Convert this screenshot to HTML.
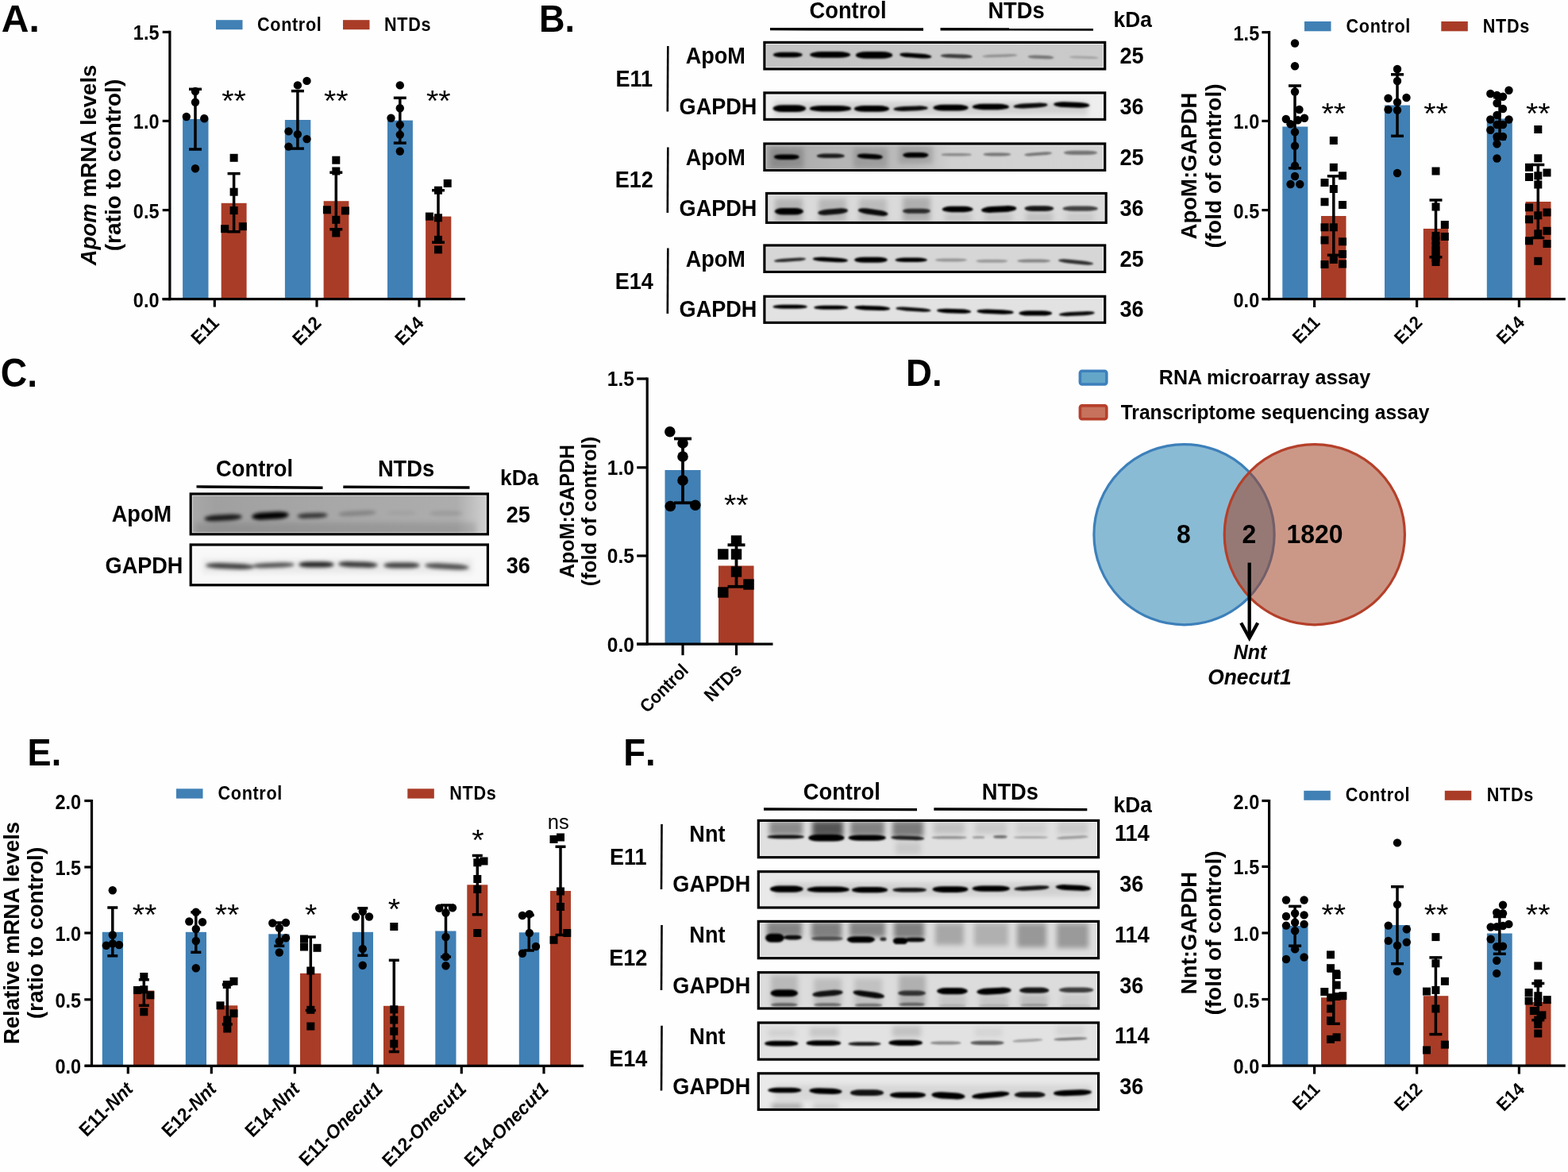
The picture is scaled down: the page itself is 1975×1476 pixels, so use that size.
<!DOCTYPE html>
<html lang="en"><head><meta charset="utf-8"><title>Figure</title>
<style>
html,body{margin:0;padding:0;background:#fff;}
body{width:1975px;height:1476px;overflow:hidden;}
svg{display:block;font-family:"Liberation Sans", sans-serif;font-weight:bold;}
</style></head>
<body>
<svg width="1975" height="1476" viewBox="0 0 1975 1476">
<rect width="1975" height="1476" fill="#fefefe"/>
<g id="panelA">
<text font-size="49" transform="translate(1.80 39.80) scale(0.98 1)">A.</text>
<rect x="230.10" y="150.00" width="32.40" height="226.60" fill="#4080b5" />
<rect x="278.70" y="255.80" width="31.90" height="120.80" fill="#a93c27" />
<rect x="358.90" y="151.00" width="32.40" height="225.60" fill="#4080b5" />
<rect x="407.60" y="253.20" width="31.80" height="123.40" fill="#a93c27" />
<rect x="488.00" y="151.60" width="31.90" height="225.00" fill="#4080b5" />
<rect x="536.10" y="272.60" width="32.20" height="104.00" fill="#a93c27" />
<line x1="213.90" y1="38.80" x2="213.90" y2="378.20" stroke="#000" stroke-width="3.2" stroke-linecap="butt"/>
<line x1="204.50" y1="376.60" x2="586.00" y2="376.60" stroke="#000" stroke-width="3.2" stroke-linecap="butt"/>
<line x1="204.70" y1="40.40" x2="213.90" y2="40.40" stroke="#000" stroke-width="3.2" stroke-linecap="butt"/>
<text font-size="25" transform="translate(200.50 50.45) scale(0.94 1)" text-anchor="end">1.5</text>
<line x1="204.70" y1="152.40" x2="213.90" y2="152.40" stroke="#000" stroke-width="3.2" stroke-linecap="butt"/>
<text font-size="25" transform="translate(200.50 162.45) scale(0.94 1)" text-anchor="end">1.0</text>
<line x1="204.70" y1="264.60" x2="213.90" y2="264.60" stroke="#000" stroke-width="3.2" stroke-linecap="butt"/>
<text font-size="25" transform="translate(200.50 274.65) scale(0.94 1)" text-anchor="end">0.5</text>
<line x1="204.70" y1="376.60" x2="213.90" y2="376.60" stroke="#000" stroke-width="3.2" stroke-linecap="butt"/>
<text font-size="25" transform="translate(200.50 386.65) scale(0.94 1)" text-anchor="end">0.0</text>
<line x1="270.30" y1="376.60" x2="270.30" y2="386.60" stroke="#000" stroke-width="3.2" stroke-linecap="butt"/>
<line x1="399.00" y1="376.60" x2="399.00" y2="386.60" stroke="#000" stroke-width="3.2" stroke-linecap="butt"/>
<line x1="528.00" y1="376.60" x2="528.00" y2="386.60" stroke="#000" stroke-width="3.2" stroke-linecap="butt"/>
<line x1="246.00" y1="112.30" x2="246.00" y2="188.00" stroke="#000" stroke-width="3.5" stroke-linecap="butt"/>
<line x1="238.00" y1="112.30" x2="254.00" y2="112.30" stroke="#000" stroke-width="3.5" stroke-linecap="butt"/>
<line x1="238.00" y1="188.00" x2="254.00" y2="188.00" stroke="#000" stroke-width="3.5" stroke-linecap="butt"/>
<line x1="294.60" y1="218.60" x2="294.60" y2="291.80" stroke="#000" stroke-width="3.5" stroke-linecap="butt"/>
<line x1="286.60" y1="218.60" x2="302.60" y2="218.60" stroke="#000" stroke-width="3.5" stroke-linecap="butt"/>
<line x1="286.60" y1="291.80" x2="302.60" y2="291.80" stroke="#000" stroke-width="3.5" stroke-linecap="butt"/>
<line x1="374.90" y1="114.60" x2="374.90" y2="187.10" stroke="#000" stroke-width="3.5" stroke-linecap="butt"/>
<line x1="366.90" y1="114.60" x2="382.90" y2="114.60" stroke="#000" stroke-width="3.5" stroke-linecap="butt"/>
<line x1="366.90" y1="187.10" x2="382.90" y2="187.10" stroke="#000" stroke-width="3.5" stroke-linecap="butt"/>
<line x1="423.30" y1="217.20" x2="423.30" y2="288.80" stroke="#000" stroke-width="3.5" stroke-linecap="butt"/>
<line x1="415.30" y1="217.20" x2="431.30" y2="217.20" stroke="#000" stroke-width="3.5" stroke-linecap="butt"/>
<line x1="415.30" y1="288.80" x2="431.30" y2="288.80" stroke="#000" stroke-width="3.5" stroke-linecap="butt"/>
<line x1="503.80" y1="123.30" x2="503.80" y2="180.10" stroke="#000" stroke-width="3.5" stroke-linecap="butt"/>
<line x1="495.80" y1="123.30" x2="511.80" y2="123.30" stroke="#000" stroke-width="3.5" stroke-linecap="butt"/>
<line x1="495.80" y1="180.10" x2="511.80" y2="180.10" stroke="#000" stroke-width="3.5" stroke-linecap="butt"/>
<line x1="552.00" y1="239.70" x2="552.00" y2="305.20" stroke="#000" stroke-width="3.5" stroke-linecap="butt"/>
<line x1="544.00" y1="239.70" x2="560.00" y2="239.70" stroke="#000" stroke-width="3.5" stroke-linecap="butt"/>
<line x1="544.00" y1="305.20" x2="560.00" y2="305.20" stroke="#000" stroke-width="3.5" stroke-linecap="butt"/>
<circle cx="246.00" cy="115.00" r="5.2"/>
<circle cx="246.00" cy="128.70" r="5.2"/>
<circle cx="234.80" cy="147.00" r="5.2"/>
<circle cx="257.30" cy="149.20" r="5.2"/>
<circle cx="246.00" cy="212.20" r="5.2"/>
<circle cx="386.50" cy="101.90" r="5.2"/>
<circle cx="374.90" cy="107.40" r="5.2"/>
<circle cx="363.50" cy="165.40" r="5.2"/>
<circle cx="374.90" cy="169.10" r="5.2"/>
<circle cx="386.50" cy="175.10" r="5.2"/>
<circle cx="363.50" cy="184.60" r="5.2"/>
<circle cx="503.80" cy="107.40" r="5.2"/>
<circle cx="503.80" cy="136.20" r="5.2"/>
<circle cx="492.50" cy="148.70" r="5.2"/>
<circle cx="503.80" cy="157.10" r="5.2"/>
<circle cx="503.80" cy="169.60" r="5.2"/>
<circle cx="503.80" cy="190.50" r="5.2"/>
<rect x="289.60" y="193.80" width="10.0" height="10.0"/>
<rect x="289.60" y="236.70" width="10.0" height="10.0"/>
<rect x="289.60" y="260.10" width="10.0" height="10.0"/>
<rect x="278.20" y="283.20" width="10.0" height="10.0"/>
<rect x="300.80" y="280.20" width="10.0" height="10.0"/>
<rect x="418.30" y="196.70" width="10.0" height="10.0"/>
<rect x="418.30" y="210.50" width="10.0" height="10.0"/>
<rect x="406.90" y="259.30" width="10.0" height="10.0"/>
<rect x="430.00" y="260.40" width="10.0" height="10.0"/>
<rect x="418.30" y="271.80" width="10.0" height="10.0"/>
<rect x="418.30" y="288.50" width="10.0" height="10.0"/>
<rect x="558.70" y="225.90" width="10.0" height="10.0"/>
<rect x="547.00" y="234.70" width="10.0" height="10.0"/>
<rect x="535.90" y="267.60" width="10.0" height="10.0"/>
<rect x="547.00" y="269.30" width="10.0" height="10.0"/>
<rect x="547.00" y="296.90" width="10.0" height="10.0"/>
<rect x="547.00" y="309.40" width="10.0" height="10.0"/>
<text font-size="36.5" transform="translate(294.50 139.60) scale(1.08 1)" font-weight="normal" text-anchor="middle">**</text>
<text font-size="36.5" transform="translate(423.30 139.60) scale(1.08 1)" font-weight="normal" text-anchor="middle">**</text>
<text font-size="36.5" transform="translate(552.30 139.60) scale(1.08 1)" font-weight="normal" text-anchor="middle">**</text>
<text font-size="23.4" transform="translate(277.30 408.20) rotate(-45) scale(0.95 1)" text-anchor="end">E11</text>
<text font-size="23.4" transform="translate(406.00 408.20) rotate(-45) scale(0.95 1)" text-anchor="end">E12</text>
<text font-size="23.4" transform="translate(535.00 408.20) rotate(-45) scale(0.95 1)" text-anchor="end">E14</text>
<text font-size="27.5" transform="translate(121.00 208.00) rotate(-90)" text-anchor="middle"><tspan font-style="italic">Apom</tspan> mRNA levels</text>
<text font-size="27.5" transform="translate(152.00 208.00) rotate(-90) scale(1.02 1)" text-anchor="middle">(ratio to control)</text>
<rect x="272.00" y="25.20" width="33.50" height="12.00" fill="#4080b5" />
<text font-size="24" transform="translate(324.00 39.00) scale(0.9 1)" letter-spacing="0.75">Control</text>
<rect x="432.00" y="25.20" width="33.50" height="12.00" fill="#a93c27" />
<text font-size="24" transform="translate(484.00 39.00) scale(0.9 1)" letter-spacing="0.75">NTDs</text>
</g>
<defs>
<filter id="blur1_5" x="-20%" y="-150%" width="140%" height="400%"><feGaussianBlur stdDeviation="1.3"/></filter>
<filter id="blur2" x="-20%" y="-150%" width="140%" height="400%"><feGaussianBlur stdDeviation="2"/></filter>
<filter id="blur3" x="-30%" y="-100%" width="160%" height="300%"><feGaussianBlur stdDeviation="3"/></filter>
</defs>
<g id="panelB">
<text font-size="49" transform="translate(679.00 39.70) scale(0.92 1)">B.</text>
<text font-size="29.5" transform="translate(1068.00 23.00) scale(0.925 1)" text-anchor="middle">Control</text>
<text font-size="29.5" transform="translate(1280.00 23.00) scale(0.925 1)" text-anchor="middle">NTDs</text>
<text font-size="28.5" transform="translate(1402.50 34.20) scale(0.925 1)">kDa</text>
<line x1="970.00" y1="36.60" x2="1163.00" y2="37.00" stroke="#000" stroke-width="3.4" stroke-linecap="butt"/>
<line x1="1184.50" y1="36.80" x2="1377.00" y2="37.00" stroke="#000" stroke-width="3.4" stroke-linecap="butt"/>
<clipPath id="bc1"><rect x="964.50" y="55.00" width="425.60" height="30.30"/></clipPath>
<linearGradient id="bg1" x1="0" y1="0" x2="1" y2="0"><stop offset="0" stop-color="#c2c2c2"/><stop offset="0.5" stop-color="#c8c8c8"/><stop offset="1" stop-color="#cacaca"/></linearGradient>
<rect x="961.30" y="51.80" width="432.00" height="36.70" fill="#f4f4f4"/>
<g clip-path="url(#bc1)">
<rect x="965.30" y="55.80" width="424.00" height="28.70" fill="url(#bg1)"/>
<g filter="url(#blur1_5)">
<rect x="973.7" y="65.8" width="37.1" height="6.5" rx="11.1" ry="3.3" fill="#000" fill-opacity="1"/>
<rect x="1020.1" y="65.1" width="51.1" height="7.7" rx="15.3" ry="3.8" fill="#000" fill-opacity="1"/>
<rect x="1077.8" y="64.9" width="46.4" height="8.9" rx="13.9" ry="4.4" fill="#000" fill-opacity="1"/>
<rect x="1133.2" y="67.2" width="40.2" height="5.7" rx="12.1" ry="2.8" fill="#000" fill-opacity="1" transform="rotate(4 1153.3 70.0)"/>
<rect x="1184.6" y="68.3" width="40.2" height="4.8" rx="12.1" ry="2.4" fill="#000" fill-opacity="0.7" transform="rotate(2 1204.7 70.7)"/>
<rect x="1237.1" y="68.5" width="44.3" height="3.5" rx="13.3" ry="1.7" fill="#000" fill-opacity="0.28" transform="rotate(-2 1259.2 70.2)"/>
<rect x="1294.5" y="69.8" width="33.0" height="4.3" rx="9.9" ry="2.2" fill="#000" fill-opacity="0.42" transform="rotate(2 1311.0 72.0)"/>
<rect x="1346.6" y="70.8" width="37.1" height="3.0" rx="11.1" ry="1.5" fill="#000" fill-opacity="0.2" transform="rotate(2 1365.1 72.3)"/>
</g></g>
<rect x="962.90" y="53.40" width="428.80" height="33.50" fill="none" stroke="#000" stroke-width="3.2"/>
<clipPath id="bc2"><rect x="964.50" y="118.50" width="425.60" height="30.30"/></clipPath>
<rect x="961.30" y="115.30" width="432.00" height="36.70" fill="#f4f4f4"/>
<g clip-path="url(#bc2)">
<rect x="965.30" y="119.30" width="424.00" height="28.70" fill="#eeeeee"/>
<g filter="url(#blur3)">
<rect x="975.0" y="128.0" width="395.0" height="17.0" fill="#000" fill-opacity="0.12"/>
</g>
<g filter="url(#blur1_5)">
<rect x="973.5" y="132.2" width="41.7" height="8.7" rx="12.5" ry="4.3" fill="#000" fill-opacity="1"/>
<rect x="1019.7" y="133.0" width="52.5" height="7.4" rx="15.8" ry="3.7" fill="#000" fill-opacity="1"/>
<rect x="1075.8" y="133.1" width="44.3" height="7.7" rx="13.3" ry="3.8" fill="#000" fill-opacity="1"/>
<rect x="1125.4" y="133.7" width="43.3" height="5.9" rx="13.0" ry="3.0" fill="#000" fill-opacity="0.95" transform="rotate(-2 1147.0 136.7)"/>
<rect x="1175.4" y="131.8" width="44.3" height="7.7" rx="13.3" ry="3.8" fill="#000" fill-opacity="1"/>
<rect x="1224.7" y="130.8" width="46.4" height="7.4" rx="13.9" ry="3.7" fill="#000" fill-opacity="1"/>
<rect x="1276.5" y="130.1" width="43.0" height="5.9" rx="12.9" ry="3.0" fill="#000" fill-opacity="0.95" transform="rotate(-3 1298.0 133.1)"/>
<rect x="1327.1" y="128.6" width="45.3" height="6.8" rx="13.6" ry="3.4" fill="#000" fill-opacity="1" transform="rotate(2 1349.8 132.0)"/>
</g></g>
<rect x="962.90" y="116.90" width="428.80" height="33.50" fill="none" stroke="#000" stroke-width="3.2"/>
<clipPath id="bc3"><rect x="964.50" y="182.60" width="425.60" height="30.20"/></clipPath>
<linearGradient id="bg3" x1="0" y1="0" x2="1" y2="0"><stop offset="0" stop-color="#a6a6a6"/><stop offset="0.2" stop-color="#b4b4b4"/><stop offset="0.45" stop-color="#bdbdbd"/><stop offset="0.55" stop-color="#d0d0d0"/><stop offset="1" stop-color="#d4d4d4"/></linearGradient>
<rect x="961.30" y="179.40" width="432.00" height="36.60" fill="#f4f4f4"/>
<g clip-path="url(#bc3)">
<rect x="965.30" y="183.40" width="424.00" height="28.60" fill="url(#bg3)"/>
<g filter="url(#blur3)">
<rect x="970.0" y="186.0" width="42.0" height="26.0" fill="#000" fill-opacity="0.18"/>
<rect x="1075.0" y="186.0" width="43.0" height="26.0" fill="#000" fill-opacity="0.15"/>
<rect x="1132.0" y="184.0" width="43.0" height="22.0" fill="#000" fill-opacity="0.15"/>
</g>
<g filter="url(#blur1_5)">
<rect x="974.8" y="194.4" width="31.9" height="6.5" rx="9.6" ry="3.3" fill="#000" fill-opacity="1"/>
<rect x="1028.8" y="193.6" width="35.0" height="5.5" rx="10.5" ry="2.7" fill="#000" fill-opacity="0.85"/>
<rect x="1079.6" y="193.8" width="32.4" height="6.4" rx="9.7" ry="3.2" fill="#000" fill-opacity="1" transform="rotate(3 1095.8 197.0)"/>
<rect x="1137.1" y="192.1" width="32.4" height="6.5" rx="9.7" ry="3.3" fill="#000" fill-opacity="1"/>
<rect x="1185.6" y="193.1" width="38.1" height="3.5" rx="11.4" ry="1.7" fill="#000" fill-opacity="0.35"/>
<rect x="1238.3" y="192.5" width="35.0" height="3.9" rx="10.5" ry="2.0" fill="#000" fill-opacity="0.45"/>
<rect x="1290.1" y="191.9" width="35.0" height="3.9" rx="10.5" ry="2.0" fill="#000" fill-opacity="0.45" transform="rotate(-4 1307.6 193.9)"/>
<rect x="1339.9" y="189.7" width="42.2" height="5.2" rx="12.7" ry="2.6" fill="#000" fill-opacity="0.45"/>
</g></g>
<rect x="962.90" y="181.00" width="428.80" height="33.40" fill="none" stroke="#000" stroke-width="3.2"/>
<clipPath id="bc4"><rect x="967.20" y="245.10" width="424.40" height="33.70"/></clipPath>
<rect x="964.00" y="241.90" width="430.80" height="40.10" fill="#f4f4f4"/>
<g clip-path="url(#bc4)">
<rect x="968.00" y="245.90" width="422.80" height="32.10" fill="#dadada"/>
<g filter="url(#blur3)">
<rect x="976.0" y="250.0" width="35.0" height="29.0" fill="#000" fill-opacity="0.18"/>
<rect x="1031.0" y="250.0" width="35.0" height="29.0" fill="#000" fill-opacity="0.16"/>
<rect x="1082.0" y="250.0" width="35.0" height="29.0" fill="#000" fill-opacity="0.14"/>
<rect x="1137.0" y="248.0" width="35.0" height="31.0" fill="#000" fill-opacity="0.2"/>
<rect x="1190.0" y="268.0" width="34.0" height="11.0" fill="#000" fill-opacity="0.1"/>
<rect x="1240.0" y="268.0" width="35.0" height="11.0" fill="#000" fill-opacity="0.1"/>
<rect x="1292.0" y="268.0" width="34.0" height="11.0" fill="#000" fill-opacity="0.12"/>
<rect x="1343.0" y="268.0" width="35.0" height="11.0" fill="#000" fill-opacity="0.08"/>
</g>
<g filter="url(#blur1_5)">
<rect x="975.8" y="262.1" width="36.1" height="8.3" rx="10.8" ry="4.1" fill="#000" fill-opacity="1"/>
<rect x="1030.1" y="263.1" width="38.1" height="7.0" rx="11.4" ry="3.5" fill="#000" fill-opacity="0.9" transform="rotate(-5 1049.2 266.6)"/>
<rect x="1080.6" y="263.6" width="38.1" height="7.0" rx="11.4" ry="3.5" fill="#000" fill-opacity="0.95" transform="rotate(8 1099.7 267.1)"/>
<rect x="1136.9" y="262.7" width="35.0" height="6.1" rx="10.5" ry="3.0" fill="#000" fill-opacity="0.75"/>
<rect x="1186.6" y="259.8" width="39.1" height="7.4" rx="11.7" ry="3.7" fill="#000" fill-opacity="1"/>
<rect x="1236.0" y="259.6" width="44.3" height="7.8" rx="13.3" ry="3.9" fill="#000" fill-opacity="1" transform="rotate(-3 1258.1 263.5)"/>
<rect x="1290.3" y="259.2" width="37.1" height="6.8" rx="11.1" ry="3.4" fill="#000" fill-opacity="0.9"/>
<rect x="1338.5" y="259.6" width="44.3" height="6.1" rx="13.3" ry="3.0" fill="#000" fill-opacity="0.7"/>
</g></g>
<rect x="965.60" y="243.50" width="427.60" height="36.90" fill="none" stroke="#000" stroke-width="3.2"/>
<clipPath id="bc5"><rect x="964.50" y="310.60" width="425.60" height="30.20"/></clipPath>
<rect x="961.30" y="307.40" width="432.00" height="36.60" fill="#f4f4f4"/>
<g clip-path="url(#bc5)">
<rect x="965.30" y="311.40" width="424.00" height="28.60" fill="#d6d6d6"/>
<g filter="url(#blur1_5)">
<rect x="975.0" y="325.2" width="40.2" height="4.2" rx="12.1" ry="2.1" fill="#000" fill-opacity="0.8" transform="rotate(-4 995.1 327.3)"/>
<rect x="1023.7" y="324.3" width="44.3" height="5.5" rx="13.3" ry="2.7" fill="#000" fill-opacity="1" transform="rotate(3 1045.8 327.0)"/>
<rect x="1076.1" y="323.8" width="41.7" height="7.0" rx="12.5" ry="3.5" fill="#000" fill-opacity="1"/>
<rect x="1127.6" y="324.6" width="40.2" height="5.5" rx="12.1" ry="2.7" fill="#000" fill-opacity="1"/>
<rect x="1177.8" y="325.5" width="40.2" height="3.9" rx="12.1" ry="2.0" fill="#000" fill-opacity="0.3"/>
<rect x="1229.2" y="326.8" width="40.2" height="3.9" rx="12.1" ry="2.0" fill="#000" fill-opacity="0.28"/>
<rect x="1281.1" y="326.6" width="42.2" height="3.9" rx="12.7" ry="2.0" fill="#000" fill-opacity="0.38"/>
<rect x="1332.9" y="327.6" width="44.3" height="4.8" rx="13.3" ry="2.4" fill="#000" fill-opacity="0.78" transform="rotate(6 1355.0 330.0)"/>
</g></g>
<rect x="962.90" y="309.00" width="428.80" height="33.40" fill="none" stroke="#000" stroke-width="3.2"/>
<clipPath id="bc6"><rect x="964.50" y="374.90" width="425.60" height="29.80"/></clipPath>
<rect x="961.30" y="371.70" width="432.00" height="36.20" fill="#f4f4f4"/>
<g clip-path="url(#bc6)">
<rect x="965.30" y="375.70" width="424.00" height="28.20" fill="#e2e2e2"/>
<g filter="url(#blur1_5)">
<rect x="973.5" y="383.8" width="43.3" height="5.0" rx="13.0" ry="2.5" fill="#000" fill-opacity="1"/>
<rect x="1025.2" y="384.7" width="43.0" height="5.0" rx="12.9" ry="2.5" fill="#000" fill-opacity="1"/>
<rect x="1076.4" y="385.2" width="44.8" height="5.5" rx="13.4" ry="2.7" fill="#000" fill-opacity="1" transform="rotate(2 1098.8 387.9)"/>
<rect x="1128.3" y="387.4" width="44.3" height="4.6" rx="13.3" ry="2.3" fill="#000" fill-opacity="0.95" transform="rotate(4 1150.4 389.7)"/>
<rect x="1179.9" y="389.0" width="43.3" height="5.5" rx="13.0" ry="2.7" fill="#000" fill-opacity="1" transform="rotate(2 1201.5 391.7)"/>
<rect x="1230.4" y="389.9" width="46.4" height="5.5" rx="13.9" ry="2.7" fill="#000" fill-opacity="1" transform="rotate(2 1253.6 392.6)"/>
<rect x="1283.4" y="391.2" width="41.7" height="6.4" rx="12.5" ry="3.2" fill="#000" fill-opacity="1"/>
<rect x="1333.9" y="392.6" width="44.8" height="5.0" rx="13.4" ry="2.5" fill="#000" fill-opacity="0.95" transform="rotate(-3 1356.3 395.1)"/>
</g></g>
<rect x="962.90" y="373.30" width="428.80" height="33.00" fill="none" stroke="#000" stroke-width="3.2"/>
<text font-size="29.3" transform="translate(901.30 79.50) scale(0.925 1)" text-anchor="middle">ApoM</text>
<text font-size="29.3" transform="translate(904.50 143.80) scale(0.925 1)" text-anchor="middle">GAPDH</text>
<text font-size="29.3" transform="translate(798.80 109.30) scale(0.925 1)" text-anchor="middle">E11</text>
<line x1="841.30" y1="58.00" x2="840.80" y2="140.50" stroke="#000" stroke-width="2.6" stroke-linecap="butt"/>
<text font-size="29.3" transform="translate(1425.50 79.50) scale(0.925 1)" text-anchor="middle">25</text>
<text font-size="29.3" transform="translate(1425.50 143.80) scale(0.925 1)" text-anchor="middle">36</text>
<text font-size="29.3" transform="translate(901.30 207.50) scale(0.925 1)" text-anchor="middle">ApoM</text>
<text font-size="29.3" transform="translate(904.50 271.80) scale(0.925 1)" text-anchor="middle">GAPDH</text>
<text font-size="29.3" transform="translate(798.80 236.30) scale(0.925 1)" text-anchor="middle">E12</text>
<line x1="841.30" y1="185.50" x2="840.80" y2="268.00" stroke="#000" stroke-width="2.6" stroke-linecap="butt"/>
<text font-size="29.3" transform="translate(1425.50 207.50) scale(0.925 1)" text-anchor="middle">25</text>
<text font-size="29.3" transform="translate(1425.50 271.80) scale(0.925 1)" text-anchor="middle">36</text>
<text font-size="29.3" transform="translate(901.30 336.30) scale(0.925 1)" text-anchor="middle">ApoM</text>
<text font-size="29.3" transform="translate(904.50 399.30) scale(0.925 1)" text-anchor="middle">GAPDH</text>
<text font-size="29.3" transform="translate(798.80 364.30) scale(0.925 1)" text-anchor="middle">E14</text>
<line x1="841.30" y1="312.50" x2="840.80" y2="395.00" stroke="#000" stroke-width="2.6" stroke-linecap="butt"/>
<text font-size="29.3" transform="translate(1425.50 336.30) scale(0.925 1)" text-anchor="middle">25</text>
<text font-size="29.3" transform="translate(1425.50 399.30) scale(0.925 1)" text-anchor="middle">36</text>
</g>
<g id="panelBchart">
<rect x="1615.30" y="159.50" width="32.00" height="217.10" fill="#4080b5" />
<rect x="1664.00" y="272.00" width="31.50" height="104.60" fill="#a93c27" />
<rect x="1744.00" y="132.50" width="32.00" height="244.10" fill="#4080b5" />
<rect x="1792.80" y="288.00" width="31.50" height="88.60" fill="#a93c27" />
<rect x="1872.80" y="149.50" width="32.00" height="227.10" fill="#4080b5" />
<rect x="1921.50" y="254.00" width="32.00" height="122.60" fill="#a93c27" />
<line x1="1598.60" y1="39.10" x2="1598.60" y2="378.20" stroke="#000" stroke-width="3.2" stroke-linecap="butt"/>
<line x1="1589.80" y1="376.60" x2="1971.80" y2="376.60" stroke="#000" stroke-width="3.2" stroke-linecap="butt"/>
<line x1="1589.40" y1="40.70" x2="1598.60" y2="40.70" stroke="#000" stroke-width="3.2" stroke-linecap="butt"/>
<text font-size="25" transform="translate(1586.20 50.75) scale(0.94 1)" text-anchor="end">1.5</text>
<line x1="1589.40" y1="152.40" x2="1598.60" y2="152.40" stroke="#000" stroke-width="3.2" stroke-linecap="butt"/>
<text font-size="25" transform="translate(1586.20 162.45) scale(0.94 1)" text-anchor="end">1.0</text>
<line x1="1589.40" y1="264.60" x2="1598.60" y2="264.60" stroke="#000" stroke-width="3.2" stroke-linecap="butt"/>
<text font-size="25" transform="translate(1586.20 274.65) scale(0.94 1)" text-anchor="end">0.5</text>
<line x1="1589.40" y1="376.60" x2="1598.60" y2="376.60" stroke="#000" stroke-width="3.2" stroke-linecap="butt"/>
<text font-size="25" transform="translate(1586.20 386.65) scale(0.94 1)" text-anchor="end">0.0</text>
<line x1="1655.60" y1="376.60" x2="1655.60" y2="387.00" stroke="#000" stroke-width="3.2" stroke-linecap="butt"/>
<line x1="1784.60" y1="376.60" x2="1784.60" y2="387.00" stroke="#000" stroke-width="3.2" stroke-linecap="butt"/>
<line x1="1913.40" y1="376.60" x2="1913.40" y2="387.00" stroke="#000" stroke-width="3.2" stroke-linecap="butt"/>
<line x1="1631.00" y1="108.00" x2="1631.00" y2="211.80" stroke="#000" stroke-width="3.5" stroke-linecap="butt"/>
<line x1="1623.00" y1="108.00" x2="1639.00" y2="108.00" stroke="#000" stroke-width="3.5" stroke-linecap="butt"/>
<line x1="1623.00" y1="211.80" x2="1639.00" y2="211.80" stroke="#000" stroke-width="3.5" stroke-linecap="butt"/>
<line x1="1679.80" y1="221.80" x2="1679.80" y2="321.30" stroke="#000" stroke-width="3.5" stroke-linecap="butt"/>
<line x1="1671.80" y1="221.80" x2="1687.80" y2="221.80" stroke="#000" stroke-width="3.5" stroke-linecap="butt"/>
<line x1="1671.80" y1="321.30" x2="1687.80" y2="321.30" stroke="#000" stroke-width="3.5" stroke-linecap="butt"/>
<line x1="1760.00" y1="93.80" x2="1760.00" y2="171.30" stroke="#000" stroke-width="3.5" stroke-linecap="butt"/>
<line x1="1752.00" y1="93.80" x2="1768.00" y2="93.80" stroke="#000" stroke-width="3.5" stroke-linecap="butt"/>
<line x1="1752.00" y1="171.30" x2="1768.00" y2="171.30" stroke="#000" stroke-width="3.5" stroke-linecap="butt"/>
<line x1="1808.50" y1="252.00" x2="1808.50" y2="323.80" stroke="#000" stroke-width="3.5" stroke-linecap="butt"/>
<line x1="1800.50" y1="252.00" x2="1816.50" y2="252.00" stroke="#000" stroke-width="3.5" stroke-linecap="butt"/>
<line x1="1800.50" y1="323.80" x2="1816.50" y2="323.80" stroke="#000" stroke-width="3.5" stroke-linecap="butt"/>
<line x1="1889.00" y1="122.50" x2="1889.00" y2="175.00" stroke="#000" stroke-width="3.5" stroke-linecap="butt"/>
<line x1="1881.00" y1="122.50" x2="1897.00" y2="122.50" stroke="#000" stroke-width="3.5" stroke-linecap="butt"/>
<line x1="1881.00" y1="175.00" x2="1897.00" y2="175.00" stroke="#000" stroke-width="3.5" stroke-linecap="butt"/>
<line x1="1937.30" y1="207.50" x2="1937.30" y2="299.50" stroke="#000" stroke-width="3.5" stroke-linecap="butt"/>
<line x1="1929.30" y1="207.50" x2="1945.30" y2="207.50" stroke="#000" stroke-width="3.5" stroke-linecap="butt"/>
<line x1="1929.30" y1="299.50" x2="1945.30" y2="299.50" stroke="#000" stroke-width="3.5" stroke-linecap="butt"/>
<circle cx="1631.00" cy="54.50" r="5.2"/>
<circle cx="1631.00" cy="83.30" r="5.2"/>
<circle cx="1631.00" cy="115.50" r="5.2"/>
<circle cx="1636.50" cy="138.00" r="5.2"/>
<circle cx="1619.80" cy="150.00" r="5.2"/>
<circle cx="1643.00" cy="148.80" r="5.2"/>
<circle cx="1625.50" cy="156.30" r="5.2"/>
<circle cx="1631.00" cy="166.30" r="5.2"/>
<circle cx="1631.00" cy="183.80" r="5.2"/>
<circle cx="1631.00" cy="208.80" r="5.2"/>
<circle cx="1631.00" cy="222.00" r="5.2"/>
<circle cx="1625.50" cy="232.00" r="5.2"/>
<circle cx="1637.30" cy="232.00" r="5.2"/>
<circle cx="1634.70" cy="151.30" r="5.2"/>
<circle cx="1760.00" cy="87.00" r="5.2"/>
<circle cx="1760.00" cy="102.00" r="5.2"/>
<circle cx="1748.50" cy="123.80" r="5.2"/>
<circle cx="1771.50" cy="123.00" r="5.2"/>
<circle cx="1760.00" cy="128.80" r="5.2"/>
<circle cx="1748.50" cy="138.00" r="5.2"/>
<circle cx="1760.00" cy="138.80" r="5.2"/>
<circle cx="1760.00" cy="218.00" r="5.2"/>
<circle cx="1900.50" cy="113.80" r="5.2"/>
<circle cx="1877.30" cy="118.00" r="5.2"/>
<circle cx="1885.50" cy="120.00" r="5.2"/>
<circle cx="1893.00" cy="121.80" r="5.2"/>
<circle cx="1885.50" cy="130.00" r="5.2"/>
<circle cx="1893.00" cy="137.00" r="5.2"/>
<circle cx="1885.50" cy="145.00" r="5.2"/>
<circle cx="1877.30" cy="150.50" r="5.2"/>
<circle cx="1900.50" cy="150.50" r="5.2"/>
<circle cx="1885.50" cy="157.00" r="5.2"/>
<circle cx="1893.00" cy="157.00" r="5.2"/>
<circle cx="1877.30" cy="163.80" r="5.2"/>
<circle cx="1885.50" cy="172.00" r="5.2"/>
<circle cx="1893.00" cy="172.00" r="5.2"/>
<circle cx="1885.50" cy="181.30" r="5.2"/>
<circle cx="1885.50" cy="199.50" r="5.2"/>
<rect x="1674.80" y="172.00" width="10.0" height="10.0"/>
<rect x="1674.80" y="205.80" width="10.0" height="10.0"/>
<rect x="1686.00" y="216.30" width="10.0" height="10.0"/>
<rect x="1663.50" y="225.00" width="10.0" height="10.0"/>
<rect x="1674.80" y="233.00" width="10.0" height="10.0"/>
<rect x="1663.50" y="249.30" width="10.0" height="10.0"/>
<rect x="1686.00" y="253.00" width="10.0" height="10.0"/>
<rect x="1663.50" y="281.30" width="10.0" height="10.0"/>
<rect x="1674.80" y="281.30" width="10.0" height="10.0"/>
<rect x="1663.50" y="297.50" width="10.0" height="10.0"/>
<rect x="1686.00" y="299.30" width="10.0" height="10.0"/>
<rect x="1686.00" y="315.00" width="10.0" height="10.0"/>
<rect x="1674.80" y="322.00" width="10.0" height="10.0"/>
<rect x="1663.50" y="328.00" width="10.0" height="10.0"/>
<rect x="1686.00" y="327.50" width="10.0" height="10.0"/>
<rect x="1803.50" y="210.50" width="10.0" height="10.0"/>
<rect x="1803.50" y="255.50" width="10.0" height="10.0"/>
<rect x="1814.80" y="278.00" width="10.0" height="10.0"/>
<rect x="1814.80" y="293.00" width="10.0" height="10.0"/>
<rect x="1803.50" y="292.00" width="10.0" height="10.0"/>
<rect x="1803.50" y="298.00" width="10.0" height="10.0"/>
<rect x="1803.50" y="305.00" width="10.0" height="10.0"/>
<rect x="1803.50" y="310.00" width="10.0" height="10.0"/>
<rect x="1803.50" y="315.00" width="10.0" height="10.0"/>
<rect x="1803.50" y="320.00" width="10.0" height="10.0"/>
<rect x="1803.50" y="325.00" width="10.0" height="10.0"/>
<rect x="1932.30" y="158.00" width="10.0" height="10.0"/>
<rect x="1932.30" y="194.30" width="10.0" height="10.0"/>
<rect x="1921.00" y="205.80" width="10.0" height="10.0"/>
<rect x="1943.50" y="212.50" width="10.0" height="10.0"/>
<rect x="1921.00" y="218.00" width="10.0" height="10.0"/>
<rect x="1932.30" y="216.30" width="10.0" height="10.0"/>
<rect x="1932.30" y="227.50" width="10.0" height="10.0"/>
<rect x="1921.00" y="256.30" width="10.0" height="10.0"/>
<rect x="1943.50" y="262.50" width="10.0" height="10.0"/>
<rect x="1932.30" y="266.30" width="10.0" height="10.0"/>
<rect x="1921.00" y="271.30" width="10.0" height="10.0"/>
<rect x="1943.50" y="285.80" width="10.0" height="10.0"/>
<rect x="1932.30" y="289.30" width="10.0" height="10.0"/>
<rect x="1921.00" y="298.30" width="10.0" height="10.0"/>
<rect x="1943.50" y="302.00" width="10.0" height="10.0"/>
<rect x="1932.30" y="323.80" width="10.0" height="10.0"/>
<text font-size="36.5" transform="translate(1679.80 155.50) scale(1.08 1)" font-weight="normal" text-anchor="middle">**</text>
<text font-size="36.5" transform="translate(1808.50 155.50) scale(1.08 1)" font-weight="normal" text-anchor="middle">**</text>
<text font-size="36.5" transform="translate(1937.30 155.50) scale(1.08 1)" font-weight="normal" text-anchor="middle">**</text>
<text font-size="22.8" transform="translate(1663.70 407.60) rotate(-45) scale(0.95 1)" text-anchor="end">E11</text>
<text font-size="22.8" transform="translate(1792.70 407.60) rotate(-45) scale(0.95 1)" text-anchor="end">E12</text>
<text font-size="22.8" transform="translate(1921.40 407.60) rotate(-45) scale(0.95 1)" text-anchor="end">E14</text>
<text font-size="27.5" transform="translate(1507.30 209.00) rotate(-90)" text-anchor="middle">ApoM:GAPDH</text>
<text font-size="27.5" transform="translate(1538.00 209.00) rotate(-90) scale(1.02 1)" text-anchor="middle">(fold of control)</text>
<rect x="1643.00" y="27.00" width="33.50" height="12.30" fill="#4080b5" />
<text font-size="24" transform="translate(1695.50 40.50) scale(0.9 1)" letter-spacing="0.75">Control</text>
<rect x="1815.30" y="27.00" width="33.50" height="12.30" fill="#a93c27" />
<text font-size="24" transform="translate(1867.80 40.50) scale(0.9 1)" letter-spacing="0.75">NTDs</text>
</g>
<g id="panelC">
<text font-size="49" transform="translate(0.80 486.80) scale(0.945 1)">C.</text>
<text font-size="29.5" transform="translate(320.60 600.00) scale(0.925 1)" text-anchor="middle">Control</text>
<text font-size="29.5" transform="translate(511.50 600.00) scale(0.925 1)" text-anchor="middle">NTDs</text>
<text font-size="28.5" transform="translate(630.00 611.00) scale(0.925 1)">kDa</text>
<line x1="247.50" y1="612.90" x2="406.50" y2="614.20" stroke="#000" stroke-width="3.4" stroke-linecap="butt"/>
<line x1="432.30" y1="613.20" x2="591.50" y2="614.00" stroke="#000" stroke-width="3.4" stroke-linecap="butt"/>
<clipPath id="bc7"><rect x="241.80" y="623.60" width="371.00" height="47.60"/></clipPath>
<linearGradient id="bg7" x1="0" y1="0" x2="1" y2="0"><stop offset="0" stop-color="#a8a8a8"/><stop offset="0.08" stop-color="#a0a0a0"/><stop offset="0.5" stop-color="#a8a8a8"/><stop offset="0.9" stop-color="#adadad"/><stop offset="1" stop-color="#cfcfcf"/></linearGradient>
<rect x="238.60" y="620.40" width="377.40" height="54.00" fill="#f4f4f4"/>
<g clip-path="url(#bc7)">
<rect x="242.60" y="624.40" width="369.40" height="46.00" fill="url(#bg7)"/>
<g filter="url(#blur3)">
<rect x="245.0" y="658.0" width="355.0" height="18.0" fill="#000" fill-opacity="0.1"/>
</g>
<g filter="url(#blur2)">
<rect x="257.3" y="648.3" width="47.4" height="7.4" rx="14.2" ry="3.7" fill="#000" fill-opacity="0.85" transform="rotate(-3 281.0 652.0)"/>
<rect x="317.2" y="645.0" width="46.4" height="9.1" rx="13.9" ry="4.6" fill="#000" fill-opacity="1" transform="rotate(-3 340.4 649.6)"/>
<rect x="374.5" y="646.2" width="38.1" height="6.4" rx="11.4" ry="3.2" fill="#000" fill-opacity="0.7" transform="rotate(-2 393.6 649.4)"/>
<rect x="426.3" y="643.4" width="47.4" height="6.1" rx="14.2" ry="3.0" fill="#000" fill-opacity="0.22" transform="rotate(-3 450.0 646.4)"/>
<rect x="487.5" y="643.4" width="37.1" height="5.2" rx="11.1" ry="2.6" fill="#000" fill-opacity="0.06"/>
<rect x="541.4" y="643.4" width="41.2" height="6.1" rx="12.4" ry="3.0" fill="#000" fill-opacity="0.1"/>
</g></g>
<rect x="240.20" y="622.00" width="374.20" height="50.80" fill="none" stroke="#000" stroke-width="3.2"/>
<clipPath id="bc8"><rect x="241.80" y="687.60" width="371.00" height="47.60"/></clipPath>
<rect x="238.60" y="684.40" width="377.40" height="54.00" fill="#f4f4f4"/>
<g clip-path="url(#bc8)">
<rect x="242.60" y="688.40" width="369.40" height="46.00" fill="#f8f8f8"/>
<g filter="url(#blur3)">
<rect x="255.0" y="704.0" width="340.0" height="18.0" fill="#000" fill-opacity="0.06"/>
</g>
<g filter="url(#blur2)">
<rect x="259.2" y="709.5" width="60.8" height="7.0" rx="18.2" ry="3.5" fill="#000" fill-opacity="0.72" transform="rotate(2 289.6 713.0)"/>
<rect x="318.1" y="708.8" width="52.5" height="6.1" rx="15.8" ry="3.0" fill="#000" fill-opacity="0.66" transform="rotate(-2 344.4 711.8)"/>
<rect x="376.3" y="707.5" width="44.3" height="7.0" rx="13.3" ry="3.5" fill="#000" fill-opacity="0.85"/>
<rect x="426.3" y="707.5" width="49.4" height="7.0" rx="14.8" ry="3.5" fill="#000" fill-opacity="0.76" transform="rotate(2 451.0 711.0)"/>
<rect x="483.3" y="708.5" width="45.3" height="7.0" rx="13.6" ry="3.5" fill="#000" fill-opacity="0.72"/>
<rect x="535.2" y="709.9" width="55.6" height="7.0" rx="16.7" ry="3.5" fill="#000" fill-opacity="0.66" transform="rotate(3 563.0 713.4)"/>
</g></g>
<rect x="240.20" y="686.00" width="374.20" height="50.80" fill="none" stroke="#000" stroke-width="3.2"/>
<text font-size="29.3" transform="translate(178.40 656.80) scale(0.925 1)" text-anchor="middle">ApoM</text>
<text font-size="29.3" transform="translate(181.50 721.80) scale(0.925 1)" text-anchor="middle">GAPDH</text>
<text font-size="29.3" transform="translate(652.80 657.80) scale(0.925 1)" text-anchor="middle">25</text>
<text font-size="29.3" transform="translate(652.80 721.80) scale(0.925 1)" text-anchor="middle">36</text>
<rect x="837.50" y="592.00" width="45.00" height="218.50" fill="#4080b5" />
<rect x="905.00" y="712.50" width="44.50" height="98.00" fill="#a93c27" />
<line x1="815.20" y1="475.40" x2="815.20" y2="812.80" stroke="#000" stroke-width="3.2" stroke-linecap="butt"/>
<line x1="802.00" y1="811.20" x2="973.50" y2="811.20" stroke="#000" stroke-width="3.2" stroke-linecap="butt"/>
<line x1="802.20" y1="477.00" x2="815.20" y2="477.00" stroke="#000" stroke-width="3.2" stroke-linecap="butt"/>
<text font-size="25.5" transform="translate(798.80 486.40) scale(0.96 1)" text-anchor="end">1.5</text>
<line x1="802.20" y1="588.80" x2="815.20" y2="588.80" stroke="#000" stroke-width="3.2" stroke-linecap="butt"/>
<text font-size="25.5" transform="translate(798.80 598.20) scale(0.96 1)" text-anchor="end">1.0</text>
<line x1="802.20" y1="700.00" x2="815.20" y2="700.00" stroke="#000" stroke-width="3.2" stroke-linecap="butt"/>
<text font-size="25.5" transform="translate(798.80 709.40) scale(0.96 1)" text-anchor="end">0.5</text>
<line x1="802.20" y1="811.20" x2="815.20" y2="811.20" stroke="#000" stroke-width="3.2" stroke-linecap="butt"/>
<text font-size="25.5" transform="translate(798.80 820.60) scale(0.96 1)" text-anchor="end">0.0</text>
<line x1="860.00" y1="811.20" x2="860.00" y2="825.20" stroke="#000" stroke-width="3.2" stroke-linecap="butt"/>
<line x1="927.50" y1="811.20" x2="927.50" y2="825.20" stroke="#000" stroke-width="3.2" stroke-linecap="butt"/>
<line x1="860.00" y1="552.50" x2="860.00" y2="633.30" stroke="#000" stroke-width="3.8" stroke-linecap="butt"/>
<line x1="849.00" y1="552.50" x2="871.00" y2="552.50" stroke="#000" stroke-width="3.8" stroke-linecap="butt"/>
<line x1="849.00" y1="633.30" x2="871.00" y2="633.30" stroke="#000" stroke-width="3.8" stroke-linecap="butt"/>
<line x1="927.50" y1="686.30" x2="927.50" y2="738.80" stroke="#000" stroke-width="3.8" stroke-linecap="butt"/>
<line x1="916.50" y1="686.30" x2="938.50" y2="686.30" stroke="#000" stroke-width="3.8" stroke-linecap="butt"/>
<line x1="916.50" y1="738.80" x2="938.50" y2="738.80" stroke="#000" stroke-width="3.8" stroke-linecap="butt"/>
<circle cx="843.80" cy="543.80" r="6.8"/>
<circle cx="860.00" cy="558.00" r="6.8"/>
<circle cx="860.00" cy="575.00" r="6.8"/>
<circle cx="860.00" cy="605.00" r="6.8"/>
<circle cx="844.30" cy="637.50" r="6.8"/>
<circle cx="875.80" cy="636.30" r="6.8"/>
<rect x="920.80" y="674.30" width="13.4" height="13.4"/>
<rect x="904.10" y="691.30" width="13.4" height="13.4"/>
<rect x="920.80" y="691.30" width="13.4" height="13.4"/>
<rect x="920.80" y="713.30" width="13.4" height="13.4"/>
<rect x="936.30" y="729.30" width="13.4" height="13.4"/>
<rect x="904.10" y="739.30" width="13.4" height="13.4"/>
<text font-size="36.5" transform="translate(927.30 648.50) scale(1.08 1)" font-weight="normal" text-anchor="middle">**</text>
<text font-size="22.8" transform="translate(868.50 845.50) rotate(-45) scale(0.93 1)" text-anchor="end">Control</text>
<text font-size="22.8" transform="translate(935.50 845.50) rotate(-45) scale(0.93 1)" text-anchor="end">NTDs</text>
<text font-size="25" transform="translate(722.50 644.00) rotate(-90)" text-anchor="middle">ApoM:GAPDH</text>
<text font-size="25" transform="translate(750.50 644.00) rotate(-90) scale(1.02 1)" text-anchor="middle">(fold of control)</text>
</g>
<g id="panelD">
<text font-size="49" transform="translate(1141.00 485.80) scale(0.93 1)">D.</text>
<rect x="1360.40" y="467.20" width="33.40" height="16.80" fill="#64a6c8" stroke="#3d80bc" stroke-width="3.6" rx="2.5" />
<rect x="1360.40" y="510.90" width="33.40" height="16.80" fill="#c6725d" stroke="#b6402c" stroke-width="3.6" rx="2.5" />
<text font-size="25.5" transform="translate(1593.00 484.20) scale(0.983 1)" text-anchor="middle">RNA microarray assay</text>
<text font-size="25.5" transform="translate(1606.00 528.00) scale(0.966 1)" text-anchor="middle">Transcriptome sequencing assay</text>
<circle cx="1491.5" cy="673.2" r="113.6" fill="#8abbd4" stroke="#3d80ba" stroke-width="3.2"/>
<circle cx="1655.8" cy="673.2" r="113.6" fill="#a04427" fill-opacity="0.55" stroke="none"/>
<circle cx="1655.8" cy="673.2" r="113.6" fill="none" stroke="#b5402a" stroke-width="3.2"/>
<text font-size="34" transform="translate(1491.00 684.00) scale(0.94 1)" text-anchor="middle">8</text>
<text font-size="34" transform="translate(1573.40 684.00) scale(0.94 1)" text-anchor="middle">2</text>
<text font-size="34" transform="translate(1656.00 684.00) scale(0.94 1)" text-anchor="middle">1820</text>
<line x1="1573.70" y1="708.60" x2="1573.70" y2="801.50" stroke="#000" stroke-width="4.3" stroke-linecap="butt"/>
<polyline points="1563.2,784.5 1573.7,803.6 1584.2,784.5" fill="none" stroke="#000" stroke-width="4.3" stroke-linejoin="miter"/>
<text font-size="25" x="1574.50" y="829.70" text-anchor="middle" font-style="italic">Nnt</text>
<text font-size="27.5" transform="translate(1574.00 861.50) scale(0.96 1)" text-anchor="middle" font-style="italic">Onecut1</text>
</g>
<g id="panelE">
<text font-size="49" transform="translate(34.60 963.80) scale(0.92 1)">E.</text>
<rect x="128.80" y="1173.80" width="26.20" height="168.50" fill="#4080b5" />
<rect x="168.00" y="1247.50" width="26.30" height="94.80" fill="#a93c27" />
<rect x="233.80" y="1173.80" width="26.20" height="168.50" fill="#4080b5" />
<rect x="273.30" y="1266.30" width="26.00" height="76.00" fill="#a93c27" />
<rect x="338.30" y="1176.30" width="26.20" height="166.00" fill="#4080b5" />
<rect x="378.00" y="1225.80" width="26.30" height="116.50" fill="#a93c27" />
<rect x="443.80" y="1173.80" width="26.20" height="168.50" fill="#4080b5" />
<rect x="483.00" y="1266.80" width="26.30" height="75.50" fill="#a93c27" />
<rect x="548.30" y="1172.50" width="26.20" height="169.80" fill="#4080b5" />
<rect x="588.30" y="1114.30" width="26.00" height="228.00" fill="#a93c27" />
<rect x="653.80" y="1174.30" width="25.50" height="168.00" fill="#4080b5" />
<rect x="693.00" y="1122.00" width="26.00" height="220.30" fill="#a93c27" />
<line x1="115.50" y1="1006.90" x2="115.50" y2="1343.90" stroke="#000" stroke-width="3.2" stroke-linecap="butt"/>
<line x1="107.00" y1="1342.30" x2="735.00" y2="1342.30" stroke="#000" stroke-width="3.2" stroke-linecap="butt"/>
<line x1="106.30" y1="1008.50" x2="115.50" y2="1008.50" stroke="#000" stroke-width="3.2" stroke-linecap="butt"/>
<text font-size="25" transform="translate(102.10 1018.55) scale(0.94 1)" text-anchor="end">2.0</text>
<line x1="106.30" y1="1092.00" x2="115.50" y2="1092.00" stroke="#000" stroke-width="3.2" stroke-linecap="butt"/>
<text font-size="25" transform="translate(102.10 1102.05) scale(0.94 1)" text-anchor="end">1.5</text>
<line x1="106.30" y1="1175.00" x2="115.50" y2="1175.00" stroke="#000" stroke-width="3.2" stroke-linecap="butt"/>
<text font-size="25" transform="translate(102.10 1185.05) scale(0.94 1)" text-anchor="end">1.0</text>
<line x1="106.30" y1="1258.80" x2="115.50" y2="1258.80" stroke="#000" stroke-width="3.2" stroke-linecap="butt"/>
<text font-size="25" transform="translate(102.10 1268.85) scale(0.94 1)" text-anchor="end">0.5</text>
<line x1="106.30" y1="1342.30" x2="115.50" y2="1342.30" stroke="#000" stroke-width="3.2" stroke-linecap="butt"/>
<text font-size="25" transform="translate(102.10 1352.35) scale(0.94 1)" text-anchor="end">0.0</text>
<line x1="161.30" y1="1342.30" x2="161.30" y2="1352.30" stroke="#000" stroke-width="3.2" stroke-linecap="butt"/>
<line x1="266.30" y1="1342.30" x2="266.30" y2="1352.30" stroke="#000" stroke-width="3.2" stroke-linecap="butt"/>
<line x1="371.30" y1="1342.30" x2="371.30" y2="1352.30" stroke="#000" stroke-width="3.2" stroke-linecap="butt"/>
<line x1="475.80" y1="1342.30" x2="475.80" y2="1352.30" stroke="#000" stroke-width="3.2" stroke-linecap="butt"/>
<line x1="581.30" y1="1342.30" x2="581.30" y2="1352.30" stroke="#000" stroke-width="3.2" stroke-linecap="butt"/>
<line x1="685.00" y1="1342.30" x2="685.00" y2="1352.30" stroke="#000" stroke-width="3.2" stroke-linecap="butt"/>
<line x1="141.80" y1="1143.00" x2="141.80" y2="1203.80" stroke="#000" stroke-width="3.5" stroke-linecap="butt"/>
<line x1="135.30" y1="1143.00" x2="148.30" y2="1143.00" stroke="#000" stroke-width="3.5" stroke-linecap="butt"/>
<line x1="135.30" y1="1203.80" x2="148.30" y2="1203.80" stroke="#000" stroke-width="3.5" stroke-linecap="butt"/>
<line x1="181.30" y1="1233.80" x2="181.30" y2="1266.30" stroke="#000" stroke-width="3.5" stroke-linecap="butt"/>
<line x1="174.80" y1="1233.80" x2="187.80" y2="1233.80" stroke="#000" stroke-width="3.5" stroke-linecap="butt"/>
<line x1="174.80" y1="1266.30" x2="187.80" y2="1266.30" stroke="#000" stroke-width="3.5" stroke-linecap="butt"/>
<line x1="246.80" y1="1148.80" x2="246.80" y2="1199.30" stroke="#000" stroke-width="3.5" stroke-linecap="butt"/>
<line x1="240.30" y1="1148.80" x2="253.30" y2="1148.80" stroke="#000" stroke-width="3.5" stroke-linecap="butt"/>
<line x1="240.30" y1="1199.30" x2="253.30" y2="1199.30" stroke="#000" stroke-width="3.5" stroke-linecap="butt"/>
<line x1="286.30" y1="1240.00" x2="286.30" y2="1290.00" stroke="#000" stroke-width="3.5" stroke-linecap="butt"/>
<line x1="279.80" y1="1240.00" x2="292.80" y2="1240.00" stroke="#000" stroke-width="3.5" stroke-linecap="butt"/>
<line x1="279.80" y1="1290.00" x2="292.80" y2="1290.00" stroke="#000" stroke-width="3.5" stroke-linecap="butt"/>
<line x1="351.80" y1="1162.00" x2="351.80" y2="1191.30" stroke="#000" stroke-width="3.5" stroke-linecap="butt"/>
<line x1="345.30" y1="1162.00" x2="358.30" y2="1162.00" stroke="#000" stroke-width="3.5" stroke-linecap="butt"/>
<line x1="345.30" y1="1191.30" x2="358.30" y2="1191.30" stroke="#000" stroke-width="3.5" stroke-linecap="butt"/>
<line x1="391.30" y1="1180.00" x2="391.30" y2="1272.50" stroke="#000" stroke-width="3.5" stroke-linecap="butt"/>
<line x1="384.80" y1="1180.00" x2="397.80" y2="1180.00" stroke="#000" stroke-width="3.5" stroke-linecap="butt"/>
<line x1="384.80" y1="1272.50" x2="397.80" y2="1272.50" stroke="#000" stroke-width="3.5" stroke-linecap="butt"/>
<line x1="456.80" y1="1143.80" x2="456.80" y2="1203.30" stroke="#000" stroke-width="3.5" stroke-linecap="butt"/>
<line x1="450.30" y1="1143.80" x2="463.30" y2="1143.80" stroke="#000" stroke-width="3.5" stroke-linecap="butt"/>
<line x1="450.30" y1="1203.30" x2="463.30" y2="1203.30" stroke="#000" stroke-width="3.5" stroke-linecap="butt"/>
<line x1="496.30" y1="1209.30" x2="496.30" y2="1324.50" stroke="#000" stroke-width="3.5" stroke-linecap="butt"/>
<line x1="489.80" y1="1209.30" x2="502.80" y2="1209.30" stroke="#000" stroke-width="3.5" stroke-linecap="butt"/>
<line x1="489.80" y1="1324.50" x2="502.80" y2="1324.50" stroke="#000" stroke-width="3.5" stroke-linecap="butt"/>
<line x1="561.50" y1="1140.00" x2="561.50" y2="1205.00" stroke="#000" stroke-width="3.5" stroke-linecap="butt"/>
<line x1="555.00" y1="1140.00" x2="568.00" y2="1140.00" stroke="#000" stroke-width="3.5" stroke-linecap="butt"/>
<line x1="555.00" y1="1205.00" x2="568.00" y2="1205.00" stroke="#000" stroke-width="3.5" stroke-linecap="butt"/>
<line x1="601.30" y1="1077.50" x2="601.30" y2="1151.80" stroke="#000" stroke-width="3.5" stroke-linecap="butt"/>
<line x1="594.80" y1="1077.50" x2="607.80" y2="1077.50" stroke="#000" stroke-width="3.5" stroke-linecap="butt"/>
<line x1="594.80" y1="1151.80" x2="607.80" y2="1151.80" stroke="#000" stroke-width="3.5" stroke-linecap="butt"/>
<line x1="666.30" y1="1152.50" x2="666.30" y2="1197.00" stroke="#000" stroke-width="3.5" stroke-linecap="butt"/>
<line x1="659.80" y1="1152.50" x2="672.80" y2="1152.50" stroke="#000" stroke-width="3.5" stroke-linecap="butt"/>
<line x1="659.80" y1="1197.00" x2="672.80" y2="1197.00" stroke="#000" stroke-width="3.5" stroke-linecap="butt"/>
<line x1="706.00" y1="1066.30" x2="706.00" y2="1177.50" stroke="#000" stroke-width="3.5" stroke-linecap="butt"/>
<line x1="699.50" y1="1066.30" x2="712.50" y2="1066.30" stroke="#000" stroke-width="3.5" stroke-linecap="butt"/>
<line x1="699.50" y1="1177.50" x2="712.50" y2="1177.50" stroke="#000" stroke-width="3.5" stroke-linecap="butt"/>
<circle cx="141.80" cy="1121.30" r="5.2"/>
<circle cx="141.80" cy="1177.50" r="5.2"/>
<circle cx="133.80" cy="1190.80" r="5.2"/>
<circle cx="150.00" cy="1190.00" r="5.2"/>
<circle cx="141.90" cy="1188.40" r="5.2"/>
<circle cx="246.80" cy="1148.80" r="5.2"/>
<circle cx="238.30" cy="1160.50" r="5.2"/>
<circle cx="255.00" cy="1161.30" r="5.2"/>
<circle cx="246.80" cy="1170.00" r="5.2"/>
<circle cx="246.80" cy="1185.00" r="5.2"/>
<circle cx="246.80" cy="1219.30" r="5.2"/>
<circle cx="343.30" cy="1162.50" r="5.2"/>
<circle cx="360.00" cy="1162.00" r="5.2"/>
<circle cx="351.80" cy="1168.80" r="5.2"/>
<circle cx="360.00" cy="1181.30" r="5.2"/>
<circle cx="351.80" cy="1185.50" r="5.2"/>
<circle cx="351.80" cy="1199.50" r="5.2"/>
<circle cx="456.80" cy="1148.00" r="5.2"/>
<circle cx="448.00" cy="1154.50" r="5.2"/>
<circle cx="465.00" cy="1154.50" r="5.2"/>
<circle cx="456.80" cy="1195.00" r="5.2"/>
<circle cx="456.80" cy="1215.80" r="5.2"/>
<circle cx="553.30" cy="1143.80" r="5.2"/>
<circle cx="570.00" cy="1143.30" r="5.2"/>
<circle cx="561.50" cy="1149.50" r="5.2"/>
<circle cx="561.50" cy="1180.00" r="5.2"/>
<circle cx="561.50" cy="1205.00" r="5.2"/>
<circle cx="561.50" cy="1216.30" r="5.2"/>
<circle cx="658.00" cy="1153.00" r="5.2"/>
<circle cx="666.80" cy="1151.30" r="5.2"/>
<circle cx="666.80" cy="1175.00" r="5.2"/>
<circle cx="675.00" cy="1192.00" r="5.2"/>
<circle cx="658.00" cy="1200.80" r="5.2"/>
<rect x="176.30" y="1225.00" width="10.0" height="10.0"/>
<rect x="168.00" y="1242.00" width="10.0" height="10.0"/>
<rect x="176.30" y="1241.30" width="10.0" height="10.0"/>
<rect x="184.30" y="1248.30" width="10.0" height="10.0"/>
<rect x="176.30" y="1269.30" width="10.0" height="10.0"/>
<rect x="289.50" y="1230.80" width="10.0" height="10.0"/>
<rect x="280.80" y="1235.00" width="10.0" height="10.0"/>
<rect x="272.50" y="1261.30" width="10.0" height="10.0"/>
<rect x="289.50" y="1271.30" width="10.0" height="10.0"/>
<rect x="281.30" y="1279.50" width="10.0" height="10.0"/>
<rect x="281.30" y="1290.50" width="10.0" height="10.0"/>
<rect x="378.00" y="1177.50" width="10.0" height="10.0"/>
<rect x="378.00" y="1187.50" width="10.0" height="10.0"/>
<rect x="394.50" y="1188.80" width="10.0" height="10.0"/>
<rect x="386.30" y="1217.50" width="10.0" height="10.0"/>
<rect x="386.30" y="1266.80" width="10.0" height="10.0"/>
<rect x="386.30" y="1287.50" width="10.0" height="10.0"/>
<rect x="491.30" y="1162.00" width="10.0" height="10.0"/>
<rect x="491.30" y="1266.30" width="10.0" height="10.0"/>
<rect x="491.30" y="1279.50" width="10.0" height="10.0"/>
<rect x="491.30" y="1293.80" width="10.0" height="10.0"/>
<rect x="491.30" y="1309.50" width="10.0" height="10.0"/>
<rect x="596.30" y="1081.30" width="10.0" height="10.0"/>
<rect x="604.50" y="1079.50" width="10.0" height="10.0"/>
<rect x="596.30" y="1102.00" width="10.0" height="10.0"/>
<rect x="596.30" y="1115.00" width="10.0" height="10.0"/>
<rect x="596.30" y="1170.00" width="10.0" height="10.0"/>
<rect x="692.50" y="1052.00" width="10.0" height="10.0"/>
<rect x="701.00" y="1049.50" width="10.0" height="10.0"/>
<rect x="701.00" y="1117.50" width="10.0" height="10.0"/>
<rect x="701.00" y="1137.00" width="10.0" height="10.0"/>
<rect x="709.30" y="1170.00" width="10.0" height="10.0"/>
<rect x="692.50" y="1178.80" width="10.0" height="10.0"/>
<text font-size="36.5" transform="translate(182.10 1164.80) scale(1.08 1)" font-weight="normal" text-anchor="middle">**</text>
<text font-size="36.5" transform="translate(286.00 1164.80) scale(1.08 1)" font-weight="normal" text-anchor="middle">**</text>
<text font-size="36.5" transform="translate(391.60 1164.80) scale(1.08 1)" font-weight="normal" text-anchor="middle">*</text>
<text font-size="36.5" transform="translate(496.30 1158.00) scale(1.08 1)" font-weight="normal" text-anchor="middle">*</text>
<text font-size="36.5" transform="translate(601.80 1071.00) scale(1.08 1)" font-weight="normal" text-anchor="middle">*</text>
<text font-size="25.5" x="703.30" y="1043.50" font-weight="normal" text-anchor="middle">ns</text>
<text font-size="23.6" transform="translate(168.80 1372.80) rotate(-45) scale(0.96 1)" text-anchor="end">E11-<tspan font-style="italic">Nnt</tspan></text>
<text font-size="23.6" transform="translate(273.80 1372.80) rotate(-45) scale(0.96 1)" text-anchor="end">E12-<tspan font-style="italic">Nnt</tspan></text>
<text font-size="23.6" transform="translate(378.80 1372.80) rotate(-45) scale(0.96 1)" text-anchor="end">E14-<tspan font-style="italic">Nnt</tspan></text>
<text font-size="23.6" transform="translate(483.30 1372.80) rotate(-45) scale(0.96 1)" text-anchor="end">E11-<tspan font-style="italic">Onecut1</tspan></text>
<text font-size="23.6" transform="translate(588.80 1372.80) rotate(-45) scale(0.96 1)" text-anchor="end">E12-<tspan font-style="italic">Onecut1</tspan></text>
<text font-size="23.6" transform="translate(692.50 1372.80) rotate(-45) scale(0.96 1)" text-anchor="end">E14-<tspan font-style="italic">Onecut1</tspan></text>
<text font-size="27.5" transform="translate(24.30 1175.00) rotate(-90)" text-anchor="middle">Relative mRNA levels</text>
<text font-size="27.5" transform="translate(53.80 1175.00) rotate(-90) scale(1.02 1)" text-anchor="middle">(ratio to control)</text>
<rect x="222.00" y="993.30" width="33.50" height="12.30" fill="#4080b5" />
<text font-size="24" transform="translate(274.50 1006.50) scale(0.9 1)" letter-spacing="0.75">Control</text>
<rect x="513.30" y="993.30" width="33.50" height="12.30" fill="#a93c27" />
<text font-size="24" transform="translate(566.30 1006.50) scale(0.9 1)" letter-spacing="0.75">NTDs</text>
</g>
<g id="panelF">
<text font-size="49" transform="translate(785.20 964.30) scale(0.93 1)" letter-spacing="5.5">F.</text>
<text font-size="29.5" transform="translate(1060.30 1007.00) scale(0.925 1)" text-anchor="middle">Control</text>
<text font-size="29.5" transform="translate(1272.30 1007.00) scale(0.925 1)" text-anchor="middle">NTDs</text>
<text font-size="28.5" transform="translate(1402.50 1022.50) scale(0.925 1)">kDa</text>
<line x1="962.00" y1="1019.00" x2="1155.00" y2="1019.60" stroke="#000" stroke-width="3.4" stroke-linecap="butt"/>
<line x1="1176.30" y1="1019.00" x2="1369.30" y2="1019.60" stroke="#000" stroke-width="3.4" stroke-linecap="butt"/>
<clipPath id="bc9"><rect x="956.90" y="1035.00" width="425.10" height="43.10"/></clipPath>
<rect x="953.70" y="1031.80" width="431.50" height="49.50" fill="#f4f4f4"/>
<g clip-path="url(#bc9)">
<rect x="957.70" y="1035.80" width="423.50" height="41.50" fill="#e0e0e0"/>
<g filter="url(#blur3)">
<rect x="969.0" y="1034.0" width="42.0" height="18.0" fill="#000" fill-opacity="0.38"/>
<rect x="1023.0" y="1034.0" width="39.0" height="20.0" fill="#000" fill-opacity="0.62"/>
<rect x="1071.0" y="1034.0" width="43.0" height="19.0" fill="#000" fill-opacity="0.42"/>
<rect x="1124.0" y="1034.0" width="39.0" height="20.0" fill="#000" fill-opacity="0.45"/>
<rect x="1128.0" y="1060.0" width="32.0" height="16.0" fill="#000" fill-opacity="0.1"/>
<rect x="1176.0" y="1036.0" width="39.0" height="14.0" fill="#000" fill-opacity="0.14"/>
<rect x="1228.0" y="1036.0" width="40.0" height="14.0" fill="#000" fill-opacity="0.1"/>
<rect x="1280.0" y="1036.0" width="38.0" height="14.0" fill="#000" fill-opacity="0.08"/>
<rect x="1332.0" y="1036.0" width="38.0" height="14.0" fill="#000" fill-opacity="0.1"/>
</g>
<g filter="url(#blur1_5)">
<rect x="966.5" y="1051.6" width="46.4" height="4.6" rx="13.9" ry="2.3" fill="#000" fill-opacity="0.92"/>
<rect x="1018.2" y="1050.8" width="45.3" height="8.7" rx="13.6" ry="4.3" fill="#000" fill-opacity="1"/>
<rect x="1068.5" y="1051.5" width="47.4" height="7.2" rx="14.2" ry="3.6" fill="#000" fill-opacity="1"/>
<rect x="1122.1" y="1052.8" width="42.2" height="5.0" rx="12.7" ry="2.5" fill="#000" fill-opacity="0.82" transform="rotate(2 1143.2 1055.3)"/>
<rect x="1173.5" y="1052.9" width="44.3" height="3.5" rx="13.3" ry="1.7" fill="#000" fill-opacity="0.35"/>
<rect x="1224.8" y="1052.9" width="15.5" height="3.0" rx="4.6" ry="1.5" fill="#000" fill-opacity="0.3"/>
<rect x="1251.1" y="1051.9" width="17.5" height="3.9" rx="5.3" ry="2.0" fill="#000" fill-opacity="0.5"/>
<rect x="1276.1" y="1053.1" width="44.3" height="3.0" rx="13.3" ry="1.5" fill="#000" fill-opacity="0.25"/>
<rect x="1330.5" y="1052.9" width="40.2" height="3.5" rx="12.1" ry="1.7" fill="#000" fill-opacity="0.3" transform="rotate(-3 1350.6 1054.6)"/>
</g></g>
<rect x="955.30" y="1033.40" width="428.30" height="46.30" fill="none" stroke="#000" stroke-width="3.2"/>
<clipPath id="bc10"><rect x="956.90" y="1099.30" width="425.10" height="42.10"/></clipPath>
<rect x="953.70" y="1096.10" width="431.50" height="48.50" fill="#f4f4f4"/>
<g clip-path="url(#bc10)">
<rect x="957.70" y="1100.10" width="423.50" height="40.50" fill="#e9e9e9"/>
<g filter="url(#blur3)">
<rect x="975.0" y="1111.0" width="400.0" height="18.0" fill="#000" fill-opacity="0.1"/>
</g>
<g filter="url(#blur1_5)">
<rect x="969.9" y="1115.6" width="41.7" height="8.1" rx="12.5" ry="4.0" fill="#000" fill-opacity="1"/>
<rect x="1016.6" y="1116.6" width="53.3" height="7.2" rx="16.0" ry="3.6" fill="#000" fill-opacity="1"/>
<rect x="1072.9" y="1117.1" width="45.3" height="7.2" rx="13.6" ry="3.6" fill="#000" fill-opacity="1"/>
<rect x="1124.3" y="1118.0" width="42.7" height="5.5" rx="12.8" ry="2.7" fill="#000" fill-opacity="0.9"/>
<rect x="1174.5" y="1116.2" width="45.0" height="7.7" rx="13.5" ry="3.8" fill="#000" fill-opacity="1"/>
<rect x="1224.6" y="1115.5" width="47.4" height="7.2" rx="14.2" ry="3.6" fill="#000" fill-opacity="1"/>
<rect x="1277.4" y="1115.7" width="44.3" height="5.5" rx="13.3" ry="2.7" fill="#000" fill-opacity="0.9" transform="rotate(-3 1299.5 1118.4)"/>
<rect x="1329.6" y="1114.6" width="44.3" height="6.8" rx="13.3" ry="3.4" fill="#000" fill-opacity="1" transform="rotate(3 1351.7 1118.0)"/>
</g></g>
<rect x="955.30" y="1097.70" width="428.30" height="45.30" fill="none" stroke="#000" stroke-width="3.2"/>
<clipPath id="bc11"><rect x="956.90" y="1162.00" width="425.10" height="43.10"/></clipPath>
<rect x="953.70" y="1158.80" width="431.50" height="49.50" fill="#f4f4f4"/>
<g clip-path="url(#bc11)">
<rect x="957.70" y="1162.80" width="423.50" height="41.50" fill="#dcdcdc"/>
<g filter="url(#blur3)">
<rect x="966.0" y="1161.0" width="44.0" height="19.0" fill="#000" fill-opacity="0.4"/>
<rect x="1022.0" y="1161.0" width="38.0" height="21.0" fill="#000" fill-opacity="0.42"/>
<rect x="1070.0" y="1161.0" width="45.0" height="19.0" fill="#000" fill-opacity="0.4"/>
<rect x="1126.0" y="1161.0" width="38.0" height="21.0" fill="#000" fill-opacity="0.42"/>
<rect x="1178.0" y="1163.0" width="36.0" height="27.0" fill="#000" fill-opacity="0.24"/>
<rect x="1227.0" y="1163.0" width="43.0" height="28.0" fill="#000" fill-opacity="0.2"/>
<rect x="1281.0" y="1163.0" width="37.0" height="30.0" fill="#000" fill-opacity="0.31"/>
<rect x="1331.0" y="1163.0" width="40.0" height="31.0" fill="#000" fill-opacity="0.3"/>
</g>
<g filter="url(#blur1_5)">
<rect x="964.0" y="1175.8" width="23.7" height="10.9" rx="7.1" ry="5.4" fill="#000" fill-opacity="1"/>
<rect x="987.2" y="1177.7" width="22.7" height="5.7" rx="6.8" ry="2.8" fill="#000" fill-opacity="0.95"/>
<rect x="1021.7" y="1179.5" width="40.2" height="5.2" rx="12.1" ry="2.6" fill="#000" fill-opacity="0.55"/>
<rect x="1066.9" y="1179.2" width="35.0" height="8.1" rx="10.5" ry="4.0" fill="#000" fill-opacity="1"/>
<rect x="1108.4" y="1180.6" width="8.2" height="4.3" rx="2.5" ry="2.2" fill="#000" fill-opacity="0.8"/>
<rect x="1124.8" y="1181.0" width="18.5" height="8.1" rx="5.6" ry="4.0" fill="#000" fill-opacity="1"/>
<rect x="1139.4" y="1180.7" width="25.8" height="5.5" rx="7.7" ry="2.7" fill="#000" fill-opacity="0.95"/>
</g></g>
<rect x="955.30" y="1160.40" width="428.30" height="46.30" fill="none" stroke="#000" stroke-width="3.2"/>
<clipPath id="bc12"><rect x="956.90" y="1226.30" width="425.10" height="42.10"/></clipPath>
<rect x="953.70" y="1223.10" width="431.50" height="48.50" fill="#f4f4f4"/>
<g clip-path="url(#bc12)">
<rect x="957.70" y="1227.10" width="423.50" height="40.50" fill="#dcdcdc"/>
<g filter="url(#blur3)">
<rect x="971.0" y="1228.0" width="34.0" height="40.0" fill="#000" fill-opacity="0.16"/>
<rect x="1025.0" y="1232.0" width="35.0" height="36.0" fill="#000" fill-opacity="0.14"/>
<rect x="1076.0" y="1232.0" width="35.0" height="36.0" fill="#000" fill-opacity="0.12"/>
<rect x="1132.0" y="1228.0" width="34.0" height="40.0" fill="#000" fill-opacity="0.2"/>
<rect x="1183.0" y="1252.0" width="34.0" height="16.0" fill="#000" fill-opacity="0.1"/>
<rect x="1234.0" y="1252.0" width="36.0" height="16.0" fill="#000" fill-opacity="0.1"/>
<rect x="1285.0" y="1252.0" width="35.0" height="16.0" fill="#000" fill-opacity="0.14"/>
<rect x="1337.0" y="1252.0" width="36.0" height="16.0" fill="#000" fill-opacity="0.08"/>
</g>
<g filter="url(#blur1_5)">
<rect x="970.5" y="1246.2" width="34.5" height="9.0" rx="10.4" ry="4.5" fill="#000" fill-opacity="1"/>
<rect x="1023.1" y="1247.5" width="38.7" height="7.2" rx="11.6" ry="3.6" fill="#000" fill-opacity="0.9" transform="rotate(-5 1042.5 1251.1)"/>
<rect x="1074.3" y="1248.7" width="39.9" height="7.2" rx="12.0" ry="3.6" fill="#000" fill-opacity="0.95" transform="rotate(8 1094.2 1252.3)"/>
<rect x="1131.0" y="1247.5" width="35.0" height="6.4" rx="10.5" ry="3.2" fill="#000" fill-opacity="0.72"/>
<rect x="1180.1" y="1244.1" width="38.7" height="8.1" rx="11.6" ry="4.0" fill="#000" fill-opacity="1"/>
<rect x="1230.3" y="1244.1" width="43.3" height="8.1" rx="13.0" ry="4.0" fill="#000" fill-opacity="1" transform="rotate(-3 1251.9 1248.1)"/>
<rect x="1283.9" y="1243.6" width="37.6" height="7.2" rx="11.3" ry="3.6" fill="#000" fill-opacity="0.9"/>
<rect x="1334.0" y="1243.6" width="43.3" height="6.4" rx="13.0" ry="3.2" fill="#000" fill-opacity="0.72"/>
<rect x="970.8" y="1263.3" width="34.0" height="4.3" rx="10.2" ry="2.2" fill="#000" fill-opacity="0.5"/>
<rect x="1025.0" y="1263.3" width="35.0" height="4.3" rx="10.5" ry="2.2" fill="#000" fill-opacity="0.45"/>
<rect x="1076.5" y="1263.8" width="35.0" height="4.3" rx="10.5" ry="2.2" fill="#000" fill-opacity="0.42"/>
<rect x="1132.0" y="1262.8" width="33.0" height="4.3" rx="9.9" ry="2.2" fill="#000" fill-opacity="0.45"/>
<rect x="1182.0" y="1264.8" width="35.0" height="3.5" rx="10.5" ry="1.7" fill="#000" fill-opacity="0.15"/>
<rect x="1232.4" y="1264.8" width="39.1" height="3.5" rx="11.7" ry="1.7" fill="#000" fill-opacity="0.15"/>
<rect x="1285.2" y="1264.3" width="35.0" height="3.5" rx="10.5" ry="1.7" fill="#000" fill-opacity="0.25"/>
<rect x="1335.4" y="1265.3" width="39.1" height="3.5" rx="11.7" ry="1.7" fill="#000" fill-opacity="0.12"/>
</g></g>
<rect x="955.30" y="1224.70" width="428.30" height="45.30" fill="none" stroke="#000" stroke-width="3.2"/>
<clipPath id="bc13"><rect x="956.90" y="1289.60" width="425.10" height="43.00"/></clipPath>
<rect x="953.70" y="1286.40" width="431.50" height="49.40" fill="#f4f4f4"/>
<g clip-path="url(#bc13)">
<rect x="957.70" y="1290.40" width="423.50" height="41.40" fill="#e2e2e2"/>
<g filter="url(#blur3)">
<rect x="968.0" y="1296.0" width="34.0" height="10.0" fill="#000" fill-opacity="0.08"/>
<rect x="1020.0" y="1294.0" width="36.0" height="12.0" fill="#000" fill-opacity="0.12"/>
<rect x="1124.0" y="1292.0" width="36.0" height="14.0" fill="#000" fill-opacity="0.14"/>
<rect x="1228.0" y="1294.0" width="34.0" height="12.0" fill="#000" fill-opacity="0.06"/>
<rect x="1330.0" y="1292.0" width="36.0" height="12.0" fill="#000" fill-opacity="0.06"/>
</g>
<g filter="url(#blur1_5)">
<rect x="963.1" y="1310.8" width="42.2" height="6.8" rx="12.7" ry="3.4" fill="#000" fill-opacity="1"/>
<rect x="1015.5" y="1310.3" width="43.7" height="6.8" rx="13.1" ry="3.4" fill="#000" fill-opacity="1"/>
<rect x="1068.4" y="1312.3" width="41.2" height="4.6" rx="12.4" ry="2.3" fill="#000" fill-opacity="0.88"/>
<rect x="1119.3" y="1309.7" width="42.7" height="7.2" rx="12.8" ry="3.6" fill="#000" fill-opacity="1"/>
<rect x="1171.7" y="1311.5" width="39.1" height="3.9" rx="11.7" ry="2.0" fill="#000" fill-opacity="0.4"/>
<rect x="1222.4" y="1310.7" width="42.2" height="5.2" rx="12.7" ry="2.6" fill="#000" fill-opacity="0.6"/>
<rect x="1275.2" y="1308.6" width="38.1" height="3.5" rx="11.4" ry="1.7" fill="#000" fill-opacity="0.3" transform="rotate(-3 1294.3 1310.3)"/>
<rect x="1327.2" y="1306.6" width="42.2" height="3.5" rx="12.7" ry="1.7" fill="#000" fill-opacity="0.45" transform="rotate(-2 1348.3 1308.3)"/>
</g></g>
<rect x="955.30" y="1288.00" width="428.30" height="46.20" fill="none" stroke="#000" stroke-width="3.2"/>
<clipPath id="bc14"><rect x="956.90" y="1353.40" width="425.10" height="42.40"/></clipPath>
<rect x="953.70" y="1350.20" width="431.50" height="48.80" fill="#f4f4f4"/>
<g clip-path="url(#bc14)">
<rect x="957.70" y="1354.20" width="423.50" height="40.80" fill="#e9e9e9"/>
<g filter="url(#blur3)">
<rect x="972.0" y="1390.0" width="38.0" height="7.0" fill="#000" fill-opacity="0.3"/>
<rect x="1024.0" y="1390.0" width="32.0" height="7.0" fill="#000" fill-opacity="0.15"/>
<rect x="975.0" y="1366.0" width="400.0" height="20.0" fill="#000" fill-opacity="0.08"/>
</g>
<g filter="url(#blur1_5)">
<rect x="967.2" y="1369.8" width="42.2" height="6.4" rx="12.7" ry="3.2" fill="#000" fill-opacity="1"/>
<rect x="1019.4" y="1370.5" width="41.2" height="7.2" rx="12.4" ry="3.6" fill="#000" fill-opacity="1" transform="rotate(2 1040.0 1374.1)"/>
<rect x="1070.9" y="1372.3" width="42.2" height="7.8" rx="12.7" ry="3.9" fill="#000" fill-opacity="0.92"/>
<rect x="1120.8" y="1375.5" width="45.3" height="7.2" rx="13.6" ry="3.6" fill="#000" fill-opacity="1"/>
<rect x="1173.4" y="1375.8" width="42.2" height="8.1" rx="12.7" ry="4.0" fill="#000" fill-opacity="1" transform="rotate(3 1194.5 1379.8)"/>
<rect x="1224.1" y="1375.6" width="47.4" height="7.0" rx="14.2" ry="3.5" fill="#000" fill-opacity="1" transform="rotate(-5 1247.8 1379.1)"/>
<rect x="1277.6" y="1375.1" width="39.1" height="7.2" rx="11.7" ry="3.6" fill="#000" fill-opacity="0.92"/>
<rect x="1326.9" y="1372.6" width="48.1" height="7.2" rx="14.4" ry="3.6" fill="#000" fill-opacity="1" transform="rotate(-2 1351.0 1376.2)"/>
</g></g>
<rect x="955.30" y="1351.80" width="428.30" height="45.60" fill="none" stroke="#000" stroke-width="3.2"/>
<text font-size="29.3" transform="translate(890.90 1059.90) scale(0.925 1)" text-anchor="middle">Nnt</text>
<text font-size="29.3" transform="translate(896.30 1123.00) scale(0.925 1)" text-anchor="middle">GAPDH</text>
<text font-size="29.3" transform="translate(791.30 1089.30) scale(0.925 1)" text-anchor="middle">E11</text>
<line x1="833.50" y1="1038.00" x2="833.00" y2="1120.00" stroke="#000" stroke-width="2.6" stroke-linecap="butt"/>
<text font-size="29.3" transform="translate(1425.90 1059.30) scale(0.925 1)" text-anchor="middle">114</text>
<text font-size="29.3" transform="translate(1425.30 1123.00) scale(0.925 1)" text-anchor="middle">36</text>
<text font-size="29.3" transform="translate(890.90 1187.40) scale(0.925 1)" text-anchor="middle">Nnt</text>
<text font-size="29.3" transform="translate(896.30 1250.50) scale(0.925 1)" text-anchor="middle">GAPDH</text>
<text font-size="29.3" transform="translate(791.30 1215.50) scale(0.925 1)" text-anchor="middle">E12</text>
<line x1="833.50" y1="1165.00" x2="833.00" y2="1247.00" stroke="#000" stroke-width="2.6" stroke-linecap="butt"/>
<text font-size="29.3" transform="translate(1425.90 1186.80) scale(0.925 1)" text-anchor="middle">114</text>
<text font-size="29.3" transform="translate(1425.30 1250.50) scale(0.925 1)" text-anchor="middle">36</text>
<text font-size="29.3" transform="translate(890.90 1314.90) scale(0.925 1)" text-anchor="middle">Nnt</text>
<text font-size="29.3" transform="translate(896.30 1378.00) scale(0.925 1)" text-anchor="middle">GAPDH</text>
<text font-size="29.3" transform="translate(791.30 1342.50) scale(0.925 1)" text-anchor="middle">E14</text>
<line x1="833.50" y1="1291.80" x2="833.00" y2="1373.50" stroke="#000" stroke-width="2.6" stroke-linecap="butt"/>
<text font-size="29.3" transform="translate(1425.90 1314.30) scale(0.925 1)" text-anchor="middle">114</text>
<text font-size="29.3" transform="translate(1425.30 1378.00) scale(0.925 1)" text-anchor="middle">36</text>
</g>
<g id="panelFchart">
<rect x="1615.30" y="1166.00" width="32.20" height="176.20" fill="#4080b5" />
<rect x="1664.00" y="1256.30" width="31.60" height="85.90" fill="#a93c27" />
<rect x="1744.00" y="1165.00" width="32.20" height="177.20" fill="#4080b5" />
<rect x="1792.80" y="1254.20" width="31.50" height="88.00" fill="#a93c27" />
<rect x="1872.90" y="1175.50" width="31.80" height="166.70" fill="#4080b5" />
<rect x="1921.50" y="1262.00" width="32.00" height="80.20" fill="#a93c27" />
<line x1="1598.60" y1="1006.90" x2="1598.60" y2="1343.80" stroke="#000" stroke-width="3.2" stroke-linecap="butt"/>
<line x1="1589.80" y1="1342.20" x2="1971.80" y2="1342.20" stroke="#000" stroke-width="3.2" stroke-linecap="butt"/>
<line x1="1589.40" y1="1008.50" x2="1598.60" y2="1008.50" stroke="#000" stroke-width="3.2" stroke-linecap="butt"/>
<text font-size="25" transform="translate(1586.20 1018.55) scale(0.94 1)" text-anchor="end">2.0</text>
<line x1="1589.40" y1="1091.40" x2="1598.60" y2="1091.40" stroke="#000" stroke-width="3.2" stroke-linecap="butt"/>
<text font-size="25" transform="translate(1586.20 1101.45) scale(0.94 1)" text-anchor="end">1.5</text>
<line x1="1589.40" y1="1175.00" x2="1598.60" y2="1175.00" stroke="#000" stroke-width="3.2" stroke-linecap="butt"/>
<text font-size="25" transform="translate(1586.20 1185.05) scale(0.94 1)" text-anchor="end">1.0</text>
<line x1="1589.40" y1="1258.50" x2="1598.60" y2="1258.50" stroke="#000" stroke-width="3.2" stroke-linecap="butt"/>
<text font-size="25" transform="translate(1586.20 1268.55) scale(0.94 1)" text-anchor="end">0.5</text>
<line x1="1589.40" y1="1342.20" x2="1598.60" y2="1342.20" stroke="#000" stroke-width="3.2" stroke-linecap="butt"/>
<text font-size="25" transform="translate(1586.20 1352.25) scale(0.94 1)" text-anchor="end">0.0</text>
<line x1="1655.60" y1="1342.20" x2="1655.60" y2="1352.60" stroke="#000" stroke-width="3.2" stroke-linecap="butt"/>
<line x1="1784.60" y1="1342.20" x2="1784.60" y2="1352.60" stroke="#000" stroke-width="3.2" stroke-linecap="butt"/>
<line x1="1913.40" y1="1342.20" x2="1913.40" y2="1352.60" stroke="#000" stroke-width="3.2" stroke-linecap="butt"/>
<line x1="1631.10" y1="1141.40" x2="1631.10" y2="1191.20" stroke="#000" stroke-width="3.5" stroke-linecap="butt"/>
<line x1="1623.10" y1="1141.40" x2="1639.10" y2="1141.40" stroke="#000" stroke-width="3.5" stroke-linecap="butt"/>
<line x1="1623.10" y1="1191.20" x2="1639.10" y2="1191.20" stroke="#000" stroke-width="3.5" stroke-linecap="butt"/>
<line x1="1679.80" y1="1223.00" x2="1679.80" y2="1289.30" stroke="#000" stroke-width="3.5" stroke-linecap="butt"/>
<line x1="1671.80" y1="1223.00" x2="1687.80" y2="1223.00" stroke="#000" stroke-width="3.5" stroke-linecap="butt"/>
<line x1="1671.80" y1="1289.30" x2="1687.80" y2="1289.30" stroke="#000" stroke-width="3.5" stroke-linecap="butt"/>
<line x1="1760.00" y1="1116.70" x2="1760.00" y2="1213.70" stroke="#000" stroke-width="3.5" stroke-linecap="butt"/>
<line x1="1752.00" y1="1116.70" x2="1768.00" y2="1116.70" stroke="#000" stroke-width="3.5" stroke-linecap="butt"/>
<line x1="1752.00" y1="1213.70" x2="1768.00" y2="1213.70" stroke="#000" stroke-width="3.5" stroke-linecap="butt"/>
<line x1="1808.40" y1="1205.90" x2="1808.40" y2="1302.60" stroke="#000" stroke-width="3.5" stroke-linecap="butt"/>
<line x1="1800.40" y1="1205.90" x2="1816.40" y2="1205.90" stroke="#000" stroke-width="3.5" stroke-linecap="butt"/>
<line x1="1800.40" y1="1302.60" x2="1816.40" y2="1302.60" stroke="#000" stroke-width="3.5" stroke-linecap="butt"/>
<line x1="1888.80" y1="1154.50" x2="1888.80" y2="1201.30" stroke="#000" stroke-width="3.5" stroke-linecap="butt"/>
<line x1="1880.80" y1="1154.50" x2="1896.80" y2="1154.50" stroke="#000" stroke-width="3.5" stroke-linecap="butt"/>
<line x1="1880.80" y1="1201.30" x2="1896.80" y2="1201.30" stroke="#000" stroke-width="3.5" stroke-linecap="butt"/>
<line x1="1937.30" y1="1238.50" x2="1937.30" y2="1284.70" stroke="#000" stroke-width="3.5" stroke-linecap="butt"/>
<line x1="1929.30" y1="1238.50" x2="1945.30" y2="1238.50" stroke="#000" stroke-width="3.5" stroke-linecap="butt"/>
<line x1="1929.30" y1="1284.70" x2="1945.30" y2="1284.70" stroke="#000" stroke-width="3.5" stroke-linecap="butt"/>
<circle cx="1620.00" cy="1133.50" r="5.2"/>
<circle cx="1642.60" cy="1133.50" r="5.2"/>
<circle cx="1631.10" cy="1150.30" r="5.2"/>
<circle cx="1620.00" cy="1154.00" r="5.2"/>
<circle cx="1642.60" cy="1152.40" r="5.2"/>
<circle cx="1631.10" cy="1161.80" r="5.2"/>
<circle cx="1620.00" cy="1165.60" r="5.2"/>
<circle cx="1642.60" cy="1163.90" r="5.2"/>
<circle cx="1631.10" cy="1172.30" r="5.2"/>
<circle cx="1631.10" cy="1195.40" r="5.2"/>
<circle cx="1620.00" cy="1208.00" r="5.2"/>
<circle cx="1642.60" cy="1205.50" r="5.2"/>
<circle cx="1760.00" cy="1061.40" r="5.2"/>
<circle cx="1760.00" cy="1139.10" r="5.2"/>
<circle cx="1748.70" cy="1165.60" r="5.2"/>
<circle cx="1771.80" cy="1170.20" r="5.2"/>
<circle cx="1748.70" cy="1184.90" r="5.2"/>
<circle cx="1771.80" cy="1186.60" r="5.2"/>
<circle cx="1760.00" cy="1190.80" r="5.2"/>
<circle cx="1760.00" cy="1223.20" r="5.2"/>
<circle cx="1893.00" cy="1139.80" r="5.2"/>
<circle cx="1885.20" cy="1149.20" r="5.2"/>
<circle cx="1893.00" cy="1150.30" r="5.2"/>
<circle cx="1900.40" cy="1163.90" r="5.2"/>
<circle cx="1877.70" cy="1167.50" r="5.2"/>
<circle cx="1885.20" cy="1167.10" r="5.2"/>
<circle cx="1893.00" cy="1166.00" r="5.2"/>
<circle cx="1877.70" cy="1182.80" r="5.2"/>
<circle cx="1885.20" cy="1192.30" r="5.2"/>
<circle cx="1893.00" cy="1191.70" r="5.2"/>
<circle cx="1885.20" cy="1209.70" r="5.2"/>
<circle cx="1885.20" cy="1225.90" r="5.2"/>
<rect x="1671.00" y="1197.40" width="10.0" height="10.0"/>
<rect x="1671.00" y="1214.20" width="10.0" height="10.0"/>
<rect x="1678.60" y="1223.00" width="10.0" height="10.0"/>
<rect x="1678.60" y="1235.60" width="10.0" height="10.0"/>
<rect x="1663.30" y="1244.00" width="10.0" height="10.0"/>
<rect x="1686.40" y="1249.20" width="10.0" height="10.0"/>
<rect x="1671.00" y="1251.30" width="10.0" height="10.0"/>
<rect x="1678.60" y="1250.00" width="10.0" height="10.0"/>
<rect x="1671.00" y="1265.40" width="10.0" height="10.0"/>
<rect x="1671.00" y="1280.30" width="10.0" height="10.0"/>
<rect x="1678.60" y="1301.30" width="10.0" height="10.0"/>
<rect x="1671.00" y="1303.90" width="10.0" height="10.0"/>
<rect x="1803.40" y="1175.10" width="10.0" height="10.0"/>
<rect x="1803.40" y="1208.30" width="10.0" height="10.0"/>
<rect x="1814.90" y="1230.80" width="10.0" height="10.0"/>
<rect x="1792.00" y="1243.60" width="10.0" height="10.0"/>
<rect x="1803.40" y="1241.90" width="10.0" height="10.0"/>
<rect x="1803.40" y="1265.40" width="10.0" height="10.0"/>
<rect x="1814.90" y="1310.60" width="10.0" height="10.0"/>
<rect x="1792.00" y="1317.50" width="10.0" height="10.0"/>
<rect x="1932.30" y="1211.40" width="10.0" height="10.0"/>
<rect x="1932.30" y="1233.50" width="10.0" height="10.0"/>
<rect x="1920.60" y="1245.00" width="10.0" height="10.0"/>
<rect x="1932.30" y="1249.20" width="10.0" height="10.0"/>
<rect x="1920.60" y="1255.50" width="10.0" height="10.0"/>
<rect x="1943.70" y="1254.10" width="10.0" height="10.0"/>
<rect x="1932.30" y="1257.00" width="10.0" height="10.0"/>
<rect x="1926.90" y="1268.10" width="10.0" height="10.0"/>
<rect x="1937.40" y="1273.40" width="10.0" height="10.0"/>
<rect x="1932.30" y="1279.70" width="10.0" height="10.0"/>
<rect x="1932.30" y="1285.00" width="10.0" height="10.0"/>
<rect x="1932.30" y="1296.50" width="10.0" height="10.0"/>
<text font-size="36.5" transform="translate(1679.80 1165.00) scale(1.08 1)" font-weight="normal" text-anchor="middle">**</text>
<text font-size="36.5" transform="translate(1809.00 1165.00) scale(1.08 1)" font-weight="normal" text-anchor="middle">**</text>
<text font-size="36.5" transform="translate(1937.20 1165.00) scale(1.08 1)" font-weight="normal" text-anchor="middle">**</text>
<text font-size="22.8" transform="translate(1663.70 1373.20) rotate(-45) scale(0.95 1)" text-anchor="end">E11</text>
<text font-size="22.8" transform="translate(1792.70 1373.20) rotate(-45) scale(0.95 1)" text-anchor="end">E12</text>
<text font-size="22.8" transform="translate(1921.40 1373.20) rotate(-45) scale(0.95 1)" text-anchor="end">E14</text>
<text font-size="27.5" transform="translate(1507.30 1175.00) rotate(-90)" text-anchor="middle">Nnt:GAPDH</text>
<text font-size="27.5" transform="translate(1538.00 1175.00) rotate(-90) scale(1.02 1)" text-anchor="middle">(fold of control)</text>
<rect x="1642.30" y="995.80" width="33.50" height="12.00" fill="#4080b5" />
<text font-size="24" transform="translate(1694.80 1009.00) scale(0.9 1)" letter-spacing="0.75">Control</text>
<rect x="1819.80" y="995.80" width="33.50" height="12.00" fill="#a93c27" />
<text font-size="24" transform="translate(1872.80 1009.00) scale(0.9 1)" letter-spacing="0.75">NTDs</text>
</g>
</svg>
</body></html>
